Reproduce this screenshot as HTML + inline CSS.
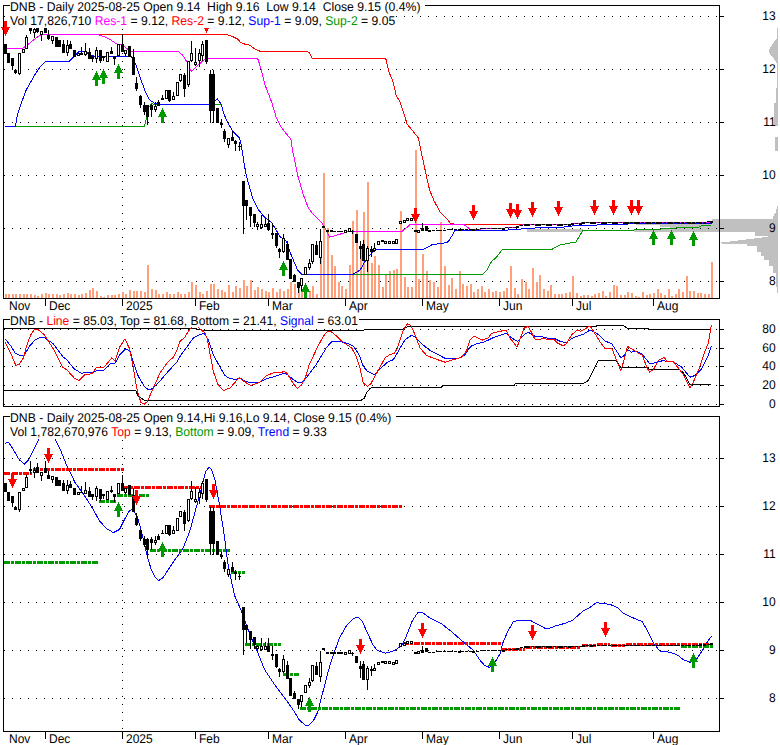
<!DOCTYPE html>
<html><head><meta charset="utf-8"><title>DNB</title>
<style>html,body{margin:0;padding:0;background:#fff;}svg{display:block}</style></head>
<body><svg width="780" height="745" viewBox="0 0 780 745" shape-rendering="crispEdges" text-rendering="geometricPrecision">
<rect width="780" height="745" fill="#fff"/>
<polygon fill="#c0c0c0" points="778,28 777,28 777,38.8 776,38.8 773.8,42.5 771,46.3 769.1,50 769.7,54.7 772.9,57.6 775.7,61.3 777,64.1 777,87.6 775.7,87.6 775.7,102.6 774.4,102.6 774.4,126 778,126"/>
<rect x="775" y="137" width="2.5" height="14" fill="#c0c0c0"/>
<rect x="527" y="229" width="56" height="3" fill="#c0c0c0"/>
<polygon fill="#c0c0c0" points="778,206 777,206 775.8,212.6 773,216.6 773,219 712,219 712,224 636,224 636,225 660,225 660,227 670,227 670,229 634,229 634,232 754.5,232 754.5,236 768.2,236 768.2,236.8 721.5,242.5 721.5,244 746.5,244 746.5,245.6 753,245.6 757,246 757,252 761,252 761,256 764.2,256 764.2,260.2 769,260.2 769,265.8 773,265.8 773,273 775.8,273 775.8,286.8 777,286.8 777,293 778,293"/>
<line x1="396" y1="16.5" x2="719" y2="16.5" stroke="#000" stroke-width="1" stroke-dasharray="1 7"/>
<rect x="720" y="16" width="4" height="1" fill="#000"/>
<line x1="4" y1="69.5" x2="719" y2="69.5" stroke="#000" stroke-width="1" stroke-dasharray="1 7"/>
<rect x="720" y="69" width="4" height="1" fill="#000"/>
<line x1="4" y1="122.5" x2="719" y2="122.5" stroke="#000" stroke-width="1" stroke-dasharray="1 7"/>
<rect x="720" y="122" width="4" height="1" fill="#000"/>
<line x1="4" y1="175.5" x2="719" y2="175.5" stroke="#000" stroke-width="1" stroke-dasharray="1 7"/>
<rect x="720" y="175" width="4" height="1" fill="#000"/>
<line x1="4" y1="228.5" x2="719" y2="228.5" stroke="#000" stroke-width="1" stroke-dasharray="1 7"/>
<rect x="720" y="228" width="4" height="1" fill="#000"/>
<line x1="4" y1="281.5" x2="719" y2="281.5" stroke="#000" stroke-width="1" stroke-dasharray="1 7"/>
<rect x="720" y="281" width="4" height="1" fill="#000"/>
<rect x="4" y="16" width="1" height="1" fill="#000"/>
<line x1="122.5" y1="29" x2="122.5" y2="298" stroke="#000" stroke-width="1" stroke-dasharray="1 7"/>
<rect x="5" y="294" width="2" height="4" fill="#ffa07a"/>
<rect x="8" y="294" width="2" height="4" fill="#ffa07a"/>
<rect x="12" y="294" width="2" height="4" fill="#ffa07a"/>
<rect x="15" y="294" width="2" height="4" fill="#ffa07a"/>
<rect x="19" y="294" width="2" height="4" fill="#ffa07a"/>
<rect x="23" y="294" width="2" height="4" fill="#ffa07a"/>
<rect x="26" y="294" width="2" height="4" fill="#ffa07a"/>
<rect x="30" y="294" width="2" height="4" fill="#ffa07a"/>
<rect x="34" y="295" width="2" height="3" fill="#ffa07a"/>
<rect x="37" y="296" width="2" height="2" fill="#ffa07a"/>
<rect x="41" y="294" width="2" height="4" fill="#ffa07a"/>
<rect x="45" y="293" width="2" height="5" fill="#ffa07a"/>
<rect x="48" y="294" width="2" height="4" fill="#ffa07a"/>
<rect x="52" y="294" width="2" height="4" fill="#ffa07a"/>
<rect x="56" y="294" width="2" height="4" fill="#ffa07a"/>
<rect x="59" y="295" width="2" height="3" fill="#ffa07a"/>
<rect x="63" y="294" width="2" height="4" fill="#ffa07a"/>
<rect x="67" y="293" width="2" height="5" fill="#ffa07a"/>
<rect x="70" y="294" width="2" height="4" fill="#ffa07a"/>
<rect x="74" y="294" width="2" height="4" fill="#ffa07a"/>
<rect x="78" y="295" width="2" height="3" fill="#ffa07a"/>
<rect x="81" y="294" width="2" height="4" fill="#ffa07a"/>
<rect x="85" y="293" width="2" height="5" fill="#ffa07a"/>
<rect x="89" y="290" width="2" height="8" fill="#ffa07a"/>
<rect x="92" y="288" width="2" height="10" fill="#ffa07a"/>
<rect x="96" y="291" width="2" height="7" fill="#ffa07a"/>
<rect x="100" y="296" width="2" height="2" fill="#ffa07a"/>
<rect x="103" y="297" width="2" height="1" fill="#ffa07a"/>
<rect x="107" y="295" width="2" height="3" fill="#ffa07a"/>
<rect x="111" y="295" width="2" height="3" fill="#ffa07a"/>
<rect x="114" y="295" width="2" height="3" fill="#ffa07a"/>
<rect x="118" y="294" width="2" height="4" fill="#ffa07a"/>
<rect x="122" y="292" width="2" height="6" fill="#ffa07a"/>
<rect x="125" y="294" width="2" height="4" fill="#ffa07a"/>
<rect x="129" y="290" width="2" height="8" fill="#ffa07a"/>
<rect x="133" y="291" width="2" height="7" fill="#ffa07a"/>
<rect x="136" y="291" width="2" height="7" fill="#ffa07a"/>
<rect x="140" y="291" width="2" height="7" fill="#ffa07a"/>
<rect x="144" y="292" width="2" height="6" fill="#ffa07a"/>
<rect x="147" y="265" width="2" height="33" fill="#ffa07a"/>
<rect x="151" y="289" width="2" height="9" fill="#ffa07a"/>
<rect x="155" y="290" width="2" height="8" fill="#ffa07a"/>
<rect x="158" y="294" width="2" height="4" fill="#ffa07a"/>
<rect x="162" y="294" width="2" height="4" fill="#ffa07a"/>
<rect x="166" y="292" width="2" height="6" fill="#ffa07a"/>
<rect x="169" y="294" width="2" height="4" fill="#ffa07a"/>
<rect x="173" y="294" width="2" height="4" fill="#ffa07a"/>
<rect x="177" y="292" width="2" height="6" fill="#ffa07a"/>
<rect x="180" y="294" width="2" height="4" fill="#ffa07a"/>
<rect x="184" y="294" width="2" height="4" fill="#ffa07a"/>
<rect x="188" y="292" width="2" height="6" fill="#ffa07a"/>
<rect x="191" y="282" width="2" height="16" fill="#ffa07a"/>
<rect x="195" y="285" width="2" height="13" fill="#ffa07a"/>
<rect x="199" y="292" width="2" height="6" fill="#ffa07a"/>
<rect x="202" y="294" width="2" height="4" fill="#ffa07a"/>
<rect x="206" y="291" width="2" height="7" fill="#ffa07a"/>
<rect x="210" y="284" width="2" height="14" fill="#ffa07a"/>
<rect x="213" y="284" width="2" height="14" fill="#ffa07a"/>
<rect x="217" y="289" width="2" height="9" fill="#ffa07a"/>
<rect x="221" y="290" width="2" height="8" fill="#ffa07a"/>
<rect x="224" y="292" width="2" height="6" fill="#ffa07a"/>
<rect x="228" y="285" width="2" height="13" fill="#ffa07a"/>
<rect x="232" y="292" width="2" height="6" fill="#ffa07a"/>
<rect x="235" y="286" width="2" height="12" fill="#ffa07a"/>
<rect x="239" y="288" width="2" height="10" fill="#ffa07a"/>
<rect x="243" y="280" width="2" height="18" fill="#ffa07a"/>
<rect x="246" y="286" width="2" height="12" fill="#ffa07a"/>
<rect x="250" y="280" width="2" height="18" fill="#ffa07a"/>
<rect x="254" y="290" width="2" height="8" fill="#ffa07a"/>
<rect x="257" y="287" width="2" height="11" fill="#ffa07a"/>
<rect x="261" y="289" width="2" height="9" fill="#ffa07a"/>
<rect x="265" y="291" width="2" height="7" fill="#ffa07a"/>
<rect x="268" y="292" width="2" height="6" fill="#ffa07a"/>
<rect x="272" y="288" width="2" height="10" fill="#ffa07a"/>
<rect x="276" y="292" width="2" height="6" fill="#ffa07a"/>
<rect x="279" y="289" width="2" height="9" fill="#ffa07a"/>
<rect x="283" y="291" width="2" height="7" fill="#ffa07a"/>
<rect x="287" y="289" width="2" height="9" fill="#ffa07a"/>
<rect x="290" y="282" width="2" height="16" fill="#ffa07a"/>
<rect x="294" y="284" width="2" height="14" fill="#ffa07a"/>
<rect x="298" y="288" width="2" height="10" fill="#ffa07a"/>
<rect x="301" y="289" width="2" height="9" fill="#ffa07a"/>
<rect x="305" y="289" width="2" height="9" fill="#ffa07a"/>
<rect x="309" y="291" width="2" height="7" fill="#ffa07a"/>
<rect x="312" y="286" width="2" height="12" fill="#ffa07a"/>
<rect x="316" y="294" width="2" height="4" fill="#ffa07a"/>
<rect x="320" y="256" width="2" height="42" fill="#ffa07a"/>
<rect x="323" y="173" width="2" height="125" fill="#ffa07a"/>
<rect x="327" y="228" width="2" height="70" fill="#ffa07a"/>
<rect x="331" y="255" width="2" height="43" fill="#ffa07a"/>
<rect x="334" y="266" width="2" height="32" fill="#ffa07a"/>
<rect x="338" y="282" width="2" height="16" fill="#ffa07a"/>
<rect x="341" y="286" width="2" height="12" fill="#ffa07a"/>
<rect x="345" y="289" width="2" height="9" fill="#ffa07a"/>
<rect x="349" y="265" width="2" height="33" fill="#ffa07a"/>
<rect x="352" y="221" width="2" height="77" fill="#ffa07a"/>
<rect x="356" y="210" width="2" height="88" fill="#ffa07a"/>
<rect x="360" y="247" width="2" height="51" fill="#ffa07a"/>
<rect x="363" y="212" width="2" height="86" fill="#ffa07a"/>
<rect x="367" y="182" width="2" height="116" fill="#ffa07a"/>
<rect x="371" y="263" width="2" height="35" fill="#ffa07a"/>
<rect x="374" y="256" width="2" height="42" fill="#ffa07a"/>
<rect x="378" y="265" width="2" height="33" fill="#ffa07a"/>
<rect x="382" y="287" width="2" height="11" fill="#ffa07a"/>
<rect x="385" y="275" width="2" height="23" fill="#ffa07a"/>
<rect x="389" y="271" width="2" height="27" fill="#ffa07a"/>
<rect x="393" y="270" width="2" height="28" fill="#ffa07a"/>
<rect x="396" y="269" width="2" height="29" fill="#ffa07a"/>
<rect x="400" y="211" width="2" height="87" fill="#ffa07a"/>
<rect x="404" y="277" width="2" height="21" fill="#ffa07a"/>
<rect x="407" y="287" width="2" height="11" fill="#ffa07a"/>
<rect x="411" y="287" width="2" height="11" fill="#ffa07a"/>
<rect x="415" y="150" width="2" height="148" fill="#ffa07a"/>
<rect x="418" y="279" width="2" height="19" fill="#ffa07a"/>
<rect x="422" y="254" width="2" height="44" fill="#ffa07a"/>
<rect x="426" y="271" width="2" height="27" fill="#ffa07a"/>
<rect x="429" y="280" width="2" height="18" fill="#ffa07a"/>
<rect x="433" y="282" width="2" height="16" fill="#ffa07a"/>
<rect x="437" y="287" width="2" height="11" fill="#ffa07a"/>
<rect x="440" y="222" width="2" height="76" fill="#ffa07a"/>
<rect x="444" y="266" width="2" height="32" fill="#ffa07a"/>
<rect x="448" y="285" width="2" height="13" fill="#ffa07a"/>
<rect x="451" y="278" width="2" height="20" fill="#ffa07a"/>
<rect x="455" y="289" width="2" height="9" fill="#ffa07a"/>
<rect x="459" y="271" width="2" height="27" fill="#ffa07a"/>
<rect x="462" y="284" width="2" height="14" fill="#ffa07a"/>
<rect x="466" y="286" width="2" height="12" fill="#ffa07a"/>
<rect x="470" y="284" width="2" height="14" fill="#ffa07a"/>
<rect x="473" y="292" width="2" height="6" fill="#ffa07a"/>
<rect x="477" y="289" width="2" height="9" fill="#ffa07a"/>
<rect x="481" y="286" width="2" height="12" fill="#ffa07a"/>
<rect x="484" y="292" width="2" height="6" fill="#ffa07a"/>
<rect x="488" y="289" width="2" height="9" fill="#ffa07a"/>
<rect x="492" y="292" width="2" height="6" fill="#ffa07a"/>
<rect x="495" y="291" width="2" height="7" fill="#ffa07a"/>
<rect x="499" y="292" width="2" height="6" fill="#ffa07a"/>
<rect x="503" y="291" width="2" height="7" fill="#ffa07a"/>
<rect x="506" y="288" width="2" height="10" fill="#ffa07a"/>
<rect x="510" y="266" width="2" height="32" fill="#ffa07a"/>
<rect x="514" y="288" width="2" height="10" fill="#ffa07a"/>
<rect x="517" y="294" width="2" height="4" fill="#ffa07a"/>
<rect x="521" y="279" width="2" height="19" fill="#ffa07a"/>
<rect x="525" y="282" width="2" height="16" fill="#ffa07a"/>
<rect x="528" y="289" width="2" height="9" fill="#ffa07a"/>
<rect x="532" y="268" width="2" height="30" fill="#ffa07a"/>
<rect x="536" y="282" width="2" height="16" fill="#ffa07a"/>
<rect x="539" y="275" width="2" height="23" fill="#ffa07a"/>
<rect x="543" y="289" width="2" height="9" fill="#ffa07a"/>
<rect x="547" y="291" width="2" height="7" fill="#ffa07a"/>
<rect x="550" y="285" width="2" height="13" fill="#ffa07a"/>
<rect x="554" y="294" width="2" height="4" fill="#ffa07a"/>
<rect x="558" y="294" width="2" height="4" fill="#ffa07a"/>
<rect x="561" y="294" width="2" height="4" fill="#ffa07a"/>
<rect x="565" y="293" width="2" height="5" fill="#ffa07a"/>
<rect x="569" y="292" width="2" height="6" fill="#ffa07a"/>
<rect x="572" y="276" width="2" height="22" fill="#ffa07a"/>
<rect x="576" y="293" width="2" height="5" fill="#ffa07a"/>
<rect x="580" y="296" width="2" height="2" fill="#ffa07a"/>
<rect x="583" y="295" width="2" height="3" fill="#ffa07a"/>
<rect x="587" y="295" width="2" height="3" fill="#ffa07a"/>
<rect x="591" y="296" width="2" height="2" fill="#ffa07a"/>
<rect x="594" y="294" width="2" height="4" fill="#ffa07a"/>
<rect x="598" y="293" width="2" height="5" fill="#ffa07a"/>
<rect x="602" y="291" width="2" height="7" fill="#ffa07a"/>
<rect x="605" y="296" width="2" height="2" fill="#ffa07a"/>
<rect x="609" y="292" width="2" height="6" fill="#ffa07a"/>
<rect x="613" y="285" width="2" height="13" fill="#ffa07a"/>
<rect x="616" y="286" width="2" height="12" fill="#ffa07a"/>
<rect x="620" y="295" width="2" height="3" fill="#ffa07a"/>
<rect x="624" y="295" width="2" height="3" fill="#ffa07a"/>
<rect x="627" y="292" width="2" height="6" fill="#ffa07a"/>
<rect x="631" y="293" width="2" height="5" fill="#ffa07a"/>
<rect x="635" y="296" width="2" height="2" fill="#ffa07a"/>
<rect x="638" y="297" width="2" height="1" fill="#ffa07a"/>
<rect x="642" y="292" width="2" height="6" fill="#ffa07a"/>
<rect x="646" y="295" width="2" height="3" fill="#ffa07a"/>
<rect x="649" y="294" width="2" height="4" fill="#ffa07a"/>
<rect x="653" y="293" width="2" height="5" fill="#ffa07a"/>
<rect x="657" y="289" width="2" height="9" fill="#ffa07a"/>
<rect x="660" y="293" width="2" height="5" fill="#ffa07a"/>
<rect x="664" y="295" width="2" height="3" fill="#ffa07a"/>
<rect x="668" y="289" width="2" height="9" fill="#ffa07a"/>
<rect x="671" y="296" width="2" height="2" fill="#ffa07a"/>
<rect x="675" y="294" width="2" height="4" fill="#ffa07a"/>
<rect x="678" y="289" width="2" height="9" fill="#ffa07a"/>
<rect x="682" y="292" width="2" height="6" fill="#ffa07a"/>
<rect x="686" y="276" width="2" height="22" fill="#ffa07a"/>
<rect x="689" y="291" width="2" height="7" fill="#ffa07a"/>
<rect x="693" y="291" width="2" height="7" fill="#ffa07a"/>
<rect x="697" y="293" width="2" height="5" fill="#ffa07a"/>
<rect x="700" y="293" width="2" height="5" fill="#ffa07a"/>
<rect x="704" y="294" width="2" height="4" fill="#ffa07a"/>
<rect x="708" y="294" width="2" height="4" fill="#ffa07a"/>
<rect x="711" y="262" width="2" height="36" fill="#ffa07a"/>
<polyline points="98.6,34.4 226.5,34.4 230.0,35.7 233.5,37.0 237.9,39.2 240.4,42.3 244.8,44.1 249.2,45.0 256.2,49.7 260.5,51.4 306.8,51.4 309.4,53.0 312.0,58.2 385.7,58.2 388.9,71.8 393.2,82.3 396.2,95.4 400.2,102.4 407.2,124.2 411.6,129.4 418.5,138.1 420.3,147.7 427.3,180.0 429.7,190.5 434.1,200.9 440.2,212.3 447.2,219.3 450.7,223.6 455.0,224.2 540.0,224.2 570.0,224.5 572.0,223.5 581.0,223.5 582.0,222.6 712.0,222.5" fill="none" stroke="#ff0000" stroke-width="1" />
<polyline points="5.0,48.4 22.7,48.4 38.6,36.2 42.3,34.4 98.5,34.5 99.2,35.3 104.7,36.8 110.4,39.8 116.5,43.9 122.7,45.0 125.8,48.0 130.9,51.1 133.0,51.5 178.5,51.5 182.8,55.4 187.2,62.4 191.2,71.4 205.5,58.5 257.6,58.2 260.5,67.1 264.9,84.6 271.9,102.9 276.3,117.7 280.6,126.5 285.9,133.4 290.8,138.8 292.5,150.1 297.7,175.4 303.0,193.8 308.2,207.7 313.4,214.7 322.2,223.4 325.4,228.9 329.8,237.2 347.3,232.0 350.0,231.6 401.8,231.5 406.2,228.0 410.5,224.2 463.7,224.5 470.8,229.5 480.0,229.5 482.0,228.6 504.0,228.6 506.0,227.5 517.0,227.0 520.0,225.5 524.0,224.5 570.0,224.5 572.0,223.5 581.0,223.5 582.0,222.6 712.0,222.5" fill="none" stroke="#ff00ff" stroke-width="1" />
<polyline points="15.4,126.0 144.4,126.0 146.2,119.0 148.8,107.7 151.4,103.4 155.0,104.6 221.0,104.6" fill="none" stroke="#009900" stroke-width="1" />
<polyline points="354.2,274.6 482.1,274.6 486.5,270.8 491.7,261.2 496.0,257.7 502.2,249.5 551.5,249.5 560.2,244.9 575.9,242.0 582.9,230.5 633.5,230.5 634.5,229.5 660.5,229.5 661.5,228.5 675.5,228.5 676.5,227.5 698.0,227.5 700.0,226.5 702.0,225.5 711.0,225.5" fill="none" stroke="#009900" stroke-width="1" />
<polyline points="5.0,126.0 15.4,126.0 17.5,114.7 21.0,104.0 26.2,90.0 34.9,74.6 41.0,65.8 45.4,61.5 69.0,61.5 78.5,51.9 82.0,51.4 85.5,51.4 90.0,55.0 95.0,56.2 131.3,56.2 135.7,64.0 140.9,79.8 146.2,93.8 149.7,99.9 154.9,103.4 160.1,104.6 209.2,104.5 214.9,100.6 217.3,99.0 221.3,104.3 223.5,112.9 227.2,121.5 232.6,131.2 239.6,138.2 241.2,145.2 244.4,165.0 246.2,175.4 252.4,197.3 257.6,208.6 264.6,217.3 272.0,223.0 280.0,236.7 286.2,241.1 290.5,253.3 297.5,269.9 301.9,274.2 304.0,274.6 352.5,274.6 360.3,269.9 364.7,262.0 370.0,255.0 375.2,249.8 377.0,249.5 422.8,249.5 432.4,244.6 447.2,242.5 449.8,239.4 455.0,230.6 457.0,230.3 500.0,230.6 535.0,228.0 560.0,227.3 570.0,226.5 574.0,225.5 596.0,225.5 598.0,224.5 625.0,224.5 630.0,223.5 712.0,223.5" fill="none" stroke="#0000ff" stroke-width="1" />
<rect x="5" y="44" width="1" height="10" fill="#000"/>
<rect x="4" y="44" width="3" height="10" fill="#000"/>
<rect x="8" y="53" width="1" height="10" fill="#000"/>
<rect x="7" y="53" width="3" height="10" fill="#000"/>
<rect x="12" y="58" width="1" height="11" fill="#000"/>
<rect x="11" y="58" width="3" height="8" fill="#000"/>
<rect x="15" y="69" width="1" height="5" fill="#000"/>
<rect x="14" y="70" width="3" height="3" fill="#000"/>
<rect x="19" y="53" width="1" height="22" fill="#000"/>
<rect x="18" y="53" width="3" height="21" fill="#000"/>
<rect x="19" y="54" width="1" height="19" fill="#fff"/>
<rect x="23" y="49" width="1" height="4" fill="#000"/>
<rect x="22" y="49" width="3" height="4" fill="#000"/>
<rect x="23" y="50" width="1" height="2" fill="#fff"/>
<rect x="26" y="35" width="1" height="14" fill="#000"/>
<rect x="25" y="37" width="3" height="12" fill="#000"/>
<rect x="26" y="38" width="1" height="10" fill="#fff"/>
<rect x="30" y="19" width="1" height="15" fill="#000"/>
<rect x="29" y="28" width="3" height="3" fill="#000"/>
<rect x="34" y="26" width="1" height="12" fill="#000"/>
<rect x="33" y="29" width="3" height="4" fill="#000"/>
<rect x="34" y="30" width="1" height="2" fill="#fff"/>
<rect x="37" y="21" width="1" height="12" fill="#000"/>
<rect x="36" y="26" width="3" height="6" fill="#000"/>
<rect x="41" y="31" width="1" height="10" fill="#000"/>
<rect x="40" y="31" width="3" height="4" fill="#000"/>
<rect x="41" y="32" width="1" height="2" fill="#fff"/>
<rect x="45" y="20" width="1" height="13" fill="#000"/>
<rect x="44" y="27" width="3" height="6" fill="#000"/>
<rect x="48" y="30" width="1" height="10" fill="#000"/>
<rect x="47" y="35" width="3" height="4" fill="#000"/>
<rect x="52" y="36" width="1" height="8" fill="#000"/>
<rect x="51" y="36" width="3" height="5" fill="#000"/>
<rect x="52" y="37" width="1" height="3" fill="#fff"/>
<rect x="56" y="37" width="1" height="10" fill="#000"/>
<rect x="55" y="37" width="3" height="10" fill="#000"/>
<rect x="59" y="40" width="1" height="7" fill="#000"/>
<rect x="58" y="40" width="3" height="7" fill="#000"/>
<rect x="63" y="40" width="1" height="13" fill="#000"/>
<rect x="62" y="44" width="3" height="9" fill="#000"/>
<rect x="67" y="40" width="1" height="16" fill="#000"/>
<rect x="66" y="45" width="3" height="8" fill="#000"/>
<rect x="67" y="46" width="1" height="6" fill="#fff"/>
<rect x="70" y="41" width="1" height="8" fill="#000"/>
<rect x="69" y="44" width="3" height="5" fill="#000"/>
<rect x="74" y="50" width="1" height="7" fill="#000"/>
<rect x="73" y="50" width="3" height="7" fill="#000"/>
<rect x="78" y="53" width="1" height="3" fill="#000"/>
<rect x="77" y="53" width="3" height="3" fill="#000"/>
<rect x="78" y="54" width="1" height="1" fill="#fff"/>
<rect x="81" y="47" width="1" height="8" fill="#000"/>
<rect x="80" y="53" width="3" height="2" fill="#000"/>
<rect x="85" y="43" width="1" height="13" fill="#000"/>
<rect x="84" y="51" width="3" height="4" fill="#000"/>
<rect x="85" y="52" width="1" height="2" fill="#fff"/>
<rect x="89" y="48" width="1" height="11" fill="#000"/>
<rect x="88" y="52" width="3" height="7" fill="#000"/>
<rect x="92" y="56" width="1" height="6" fill="#000"/>
<rect x="91" y="56" width="3" height="3" fill="#000"/>
<rect x="96" y="47" width="1" height="16" fill="#000"/>
<rect x="95" y="50" width="3" height="9" fill="#000"/>
<rect x="96" y="51" width="1" height="7" fill="#fff"/>
<rect x="100" y="50" width="1" height="13" fill="#000"/>
<rect x="99" y="50" width="3" height="11" fill="#000"/>
<rect x="103" y="56" width="1" height="5" fill="#000"/>
<rect x="102" y="56" width="3" height="2" fill="#000"/>
<rect x="107" y="52" width="1" height="10" fill="#000"/>
<rect x="106" y="52" width="3" height="10" fill="#000"/>
<rect x="107" y="53" width="1" height="8" fill="#fff"/>
<rect x="111" y="47" width="1" height="7" fill="#000"/>
<rect x="110" y="51" width="3" height="3" fill="#000"/>
<rect x="114" y="56" width="1" height="9" fill="#000"/>
<rect x="113" y="56" width="3" height="3" fill="#000"/>
<rect x="118" y="44" width="1" height="12" fill="#000"/>
<rect x="117" y="44" width="3" height="12" fill="#000"/>
<rect x="118" y="45" width="1" height="10" fill="#fff"/>
<rect x="122" y="34" width="1" height="18" fill="#000"/>
<rect x="121" y="44" width="3" height="8" fill="#000"/>
<rect x="125" y="50" width="1" height="6" fill="#000"/>
<rect x="124" y="50" width="3" height="4" fill="#000"/>
<rect x="125" y="51" width="1" height="2" fill="#fff"/>
<rect x="129" y="46" width="1" height="11" fill="#000"/>
<rect x="128" y="46" width="3" height="11" fill="#000"/>
<rect x="133" y="49" width="1" height="26" fill="#000"/>
<rect x="132" y="57" width="3" height="18" fill="#000"/>
<rect x="136" y="77" width="1" height="14" fill="#000"/>
<rect x="135" y="83" width="3" height="6" fill="#000"/>
<rect x="140" y="95" width="1" height="13" fill="#000"/>
<rect x="139" y="96" width="3" height="9" fill="#000"/>
<rect x="144" y="102" width="1" height="13" fill="#000"/>
<rect x="143" y="105" width="3" height="7" fill="#000"/>
<rect x="147" y="105" width="1" height="20" fill="#000"/>
<rect x="146" y="105" width="3" height="12" fill="#000"/>
<rect x="151" y="104" width="1" height="13" fill="#000"/>
<rect x="150" y="105" width="3" height="5" fill="#000"/>
<rect x="155" y="102" width="1" height="10" fill="#000"/>
<rect x="154" y="106" width="3" height="4" fill="#000"/>
<rect x="155" y="107" width="1" height="2" fill="#fff"/>
<rect x="158" y="100" width="1" height="6" fill="#000"/>
<rect x="157" y="102" width="3" height="4" fill="#000"/>
<rect x="162" y="95" width="1" height="5" fill="#000"/>
<rect x="161" y="98" width="3" height="2" fill="#000"/>
<rect x="166" y="90" width="1" height="9" fill="#000"/>
<rect x="165" y="90" width="3" height="9" fill="#000"/>
<rect x="166" y="91" width="1" height="7" fill="#fff"/>
<rect x="169" y="90" width="1" height="12" fill="#000"/>
<rect x="168" y="90" width="3" height="11" fill="#000"/>
<rect x="173" y="92" width="1" height="8" fill="#000"/>
<rect x="172" y="96" width="3" height="4" fill="#000"/>
<rect x="173" y="97" width="1" height="2" fill="#fff"/>
<rect x="177" y="82" width="1" height="14" fill="#000"/>
<rect x="176" y="82" width="3" height="14" fill="#000"/>
<rect x="177" y="83" width="1" height="12" fill="#fff"/>
<rect x="180" y="74" width="1" height="8" fill="#000"/>
<rect x="179" y="74" width="3" height="7" fill="#000"/>
<rect x="180" y="75" width="1" height="5" fill="#fff"/>
<rect x="184" y="73" width="1" height="24" fill="#000"/>
<rect x="183" y="75" width="3" height="14" fill="#000"/>
<rect x="188" y="61" width="1" height="26" fill="#000"/>
<rect x="187" y="61" width="3" height="24" fill="#000"/>
<rect x="188" y="62" width="1" height="22" fill="#fff"/>
<rect x="191" y="41" width="1" height="21" fill="#000"/>
<rect x="190" y="53" width="3" height="8" fill="#000"/>
<rect x="191" y="54" width="1" height="6" fill="#fff"/>
<rect x="195" y="48" width="1" height="18" fill="#000"/>
<rect x="194" y="62" width="3" height="3" fill="#000"/>
<rect x="195" y="63" width="1" height="1" fill="#fff"/>
<rect x="199" y="49" width="1" height="18" fill="#000"/>
<rect x="198" y="53" width="3" height="8" fill="#000"/>
<rect x="199" y="54" width="1" height="6" fill="#fff"/>
<rect x="202" y="41" width="1" height="20" fill="#000"/>
<rect x="201" y="44" width="3" height="12" fill="#000"/>
<rect x="202" y="45" width="1" height="10" fill="#fff"/>
<rect x="206" y="40" width="1" height="24" fill="#000"/>
<rect x="205" y="40" width="3" height="22" fill="#000"/>
<rect x="210" y="70" width="1" height="53" fill="#000"/>
<rect x="209" y="74" width="3" height="37" fill="#000"/>
<rect x="213" y="70" width="1" height="53" fill="#000"/>
<rect x="212" y="74" width="3" height="37" fill="#000"/>
<rect x="217" y="108" width="1" height="15" fill="#000"/>
<rect x="216" y="108" width="3" height="15" fill="#000"/>
<rect x="221" y="119" width="1" height="9" fill="#000"/>
<rect x="220" y="123" width="3" height="2" fill="#000"/>
<rect x="224" y="129" width="1" height="13" fill="#000"/>
<rect x="223" y="131" width="3" height="8" fill="#000"/>
<rect x="228" y="138" width="1" height="10" fill="#000"/>
<rect x="227" y="138" width="3" height="7" fill="#000"/>
<rect x="228" y="139" width="1" height="5" fill="#fff"/>
<rect x="232" y="131" width="1" height="10" fill="#000"/>
<rect x="231" y="137" width="3" height="4" fill="#000"/>
<rect x="235" y="140" width="1" height="11" fill="#000"/>
<rect x="234" y="141" width="3" height="3" fill="#000"/>
<rect x="239" y="142" width="1" height="9" fill="#000"/>
<rect x="238" y="146" width="3" height="1" fill="#000"/>
<rect x="243" y="181" width="1" height="53" fill="#000"/>
<rect x="242" y="181" width="3" height="25" fill="#000"/>
<rect x="246" y="200" width="1" height="20" fill="#000"/>
<rect x="245" y="200" width="3" height="6" fill="#000"/>
<rect x="250" y="207" width="1" height="20" fill="#000"/>
<rect x="249" y="207" width="3" height="9" fill="#000"/>
<rect x="254" y="214" width="1" height="13" fill="#000"/>
<rect x="253" y="214" width="3" height="9" fill="#000"/>
<rect x="257" y="222" width="1" height="8" fill="#000"/>
<rect x="256" y="224" width="3" height="3" fill="#000"/>
<rect x="257" y="225" width="1" height="1" fill="#fff"/>
<rect x="261" y="215" width="1" height="14" fill="#000"/>
<rect x="260" y="224" width="3" height="4" fill="#000"/>
<rect x="261" y="225" width="1" height="2" fill="#fff"/>
<rect x="265" y="219" width="1" height="8" fill="#000"/>
<rect x="264" y="224" width="3" height="3" fill="#000"/>
<rect x="265" y="225" width="1" height="1" fill="#fff"/>
<rect x="268" y="214" width="1" height="17" fill="#000"/>
<rect x="267" y="223" width="3" height="7" fill="#000"/>
<rect x="272" y="223" width="1" height="16" fill="#000"/>
<rect x="271" y="233" width="3" height="2" fill="#000"/>
<rect x="276" y="233" width="1" height="15" fill="#000"/>
<rect x="275" y="233" width="3" height="13" fill="#000"/>
<rect x="279" y="248" width="1" height="10" fill="#000"/>
<rect x="278" y="249" width="3" height="3" fill="#000"/>
<rect x="283" y="234" width="1" height="19" fill="#000"/>
<rect x="282" y="238" width="3" height="14" fill="#000"/>
<rect x="283" y="239" width="1" height="12" fill="#fff"/>
<rect x="287" y="241" width="1" height="19" fill="#000"/>
<rect x="286" y="244" width="3" height="16" fill="#000"/>
<rect x="290" y="259" width="1" height="20" fill="#000"/>
<rect x="289" y="259" width="3" height="20" fill="#000"/>
<rect x="294" y="274" width="1" height="8" fill="#000"/>
<rect x="293" y="275" width="3" height="7" fill="#000"/>
<rect x="298" y="282" width="1" height="11" fill="#000"/>
<rect x="297" y="282" width="3" height="6" fill="#000"/>
<rect x="301" y="278" width="1" height="13" fill="#000"/>
<rect x="300" y="278" width="3" height="8" fill="#000"/>
<rect x="301" y="279" width="1" height="6" fill="#fff"/>
<rect x="305" y="267" width="1" height="8" fill="#000"/>
<rect x="304" y="267" width="3" height="8" fill="#000"/>
<rect x="305" y="268" width="1" height="6" fill="#fff"/>
<rect x="309" y="259" width="1" height="11" fill="#000"/>
<rect x="308" y="263" width="3" height="5" fill="#000"/>
<rect x="309" y="264" width="1" height="3" fill="#fff"/>
<rect x="312" y="244" width="1" height="20" fill="#000"/>
<rect x="311" y="244" width="3" height="18" fill="#000"/>
<rect x="312" y="245" width="1" height="16" fill="#fff"/>
<rect x="316" y="241" width="1" height="14" fill="#000"/>
<rect x="315" y="245" width="3" height="10" fill="#000"/>
<rect x="320" y="229" width="1" height="35" fill="#000"/>
<rect x="319" y="241" width="3" height="17" fill="#000"/>
<rect x="320" y="242" width="1" height="15" fill="#fff"/>
<rect x="323" y="226" width="1" height="2" fill="#000"/>
<rect x="322" y="226" width="3" height="2" fill="#000"/>
<rect x="327" y="230" width="1" height="2" fill="#000"/>
<rect x="326" y="230" width="3" height="2" fill="#000"/>
<rect x="331" y="230" width="1" height="2" fill="#000"/>
<rect x="330" y="230" width="3" height="2" fill="#000"/>
<rect x="334" y="231" width="1" height="1" fill="#000"/>
<rect x="333" y="231" width="3" height="1" fill="#000"/>
<rect x="338" y="231" width="1" height="1" fill="#000"/>
<rect x="337" y="231" width="3" height="1" fill="#000"/>
<rect x="341" y="231" width="1" height="1" fill="#000"/>
<rect x="340" y="231" width="3" height="1" fill="#000"/>
<rect x="345" y="230" width="1" height="3" fill="#000"/>
<rect x="344" y="230" width="3" height="3" fill="#000"/>
<rect x="345" y="231" width="1" height="1" fill="#fff"/>
<rect x="349" y="228" width="1" height="4" fill="#000"/>
<rect x="348" y="228" width="3" height="4" fill="#000"/>
<rect x="349" y="229" width="1" height="2" fill="#fff"/>
<rect x="352" y="230" width="1" height="4" fill="#000"/>
<rect x="351" y="231" width="3" height="1" fill="#000"/>
<rect x="356" y="234" width="1" height="9" fill="#000"/>
<rect x="355" y="234" width="3" height="9" fill="#000"/>
<rect x="360" y="241" width="1" height="18" fill="#000"/>
<rect x="359" y="246" width="3" height="3" fill="#000"/>
<rect x="363" y="240" width="1" height="21" fill="#000"/>
<rect x="362" y="244" width="3" height="17" fill="#000"/>
<rect x="367" y="246" width="1" height="26" fill="#000"/>
<rect x="366" y="248" width="3" height="13" fill="#000"/>
<rect x="367" y="249" width="1" height="11" fill="#fff"/>
<rect x="371" y="246" width="1" height="11" fill="#000"/>
<rect x="370" y="249" width="3" height="3" fill="#000"/>
<rect x="374" y="243" width="1" height="9" fill="#000"/>
<rect x="373" y="248" width="3" height="3" fill="#000"/>
<rect x="374" y="249" width="1" height="1" fill="#fff"/>
<rect x="378" y="241" width="1" height="4" fill="#000"/>
<rect x="377" y="241" width="3" height="4" fill="#000"/>
<rect x="378" y="242" width="1" height="2" fill="#fff"/>
<rect x="382" y="240" width="1" height="2" fill="#000"/>
<rect x="381" y="240" width="3" height="2" fill="#000"/>
<rect x="385" y="241" width="1" height="3" fill="#000"/>
<rect x="384" y="241" width="3" height="3" fill="#000"/>
<rect x="385" y="242" width="1" height="1" fill="#fff"/>
<rect x="389" y="241" width="1" height="3" fill="#000"/>
<rect x="388" y="241" width="3" height="3" fill="#000"/>
<rect x="389" y="242" width="1" height="1" fill="#fff"/>
<rect x="393" y="241" width="1" height="3" fill="#000"/>
<rect x="392" y="241" width="3" height="3" fill="#000"/>
<rect x="393" y="242" width="1" height="1" fill="#fff"/>
<rect x="396" y="239" width="1" height="5" fill="#000"/>
<rect x="395" y="239" width="3" height="5" fill="#000"/>
<rect x="396" y="240" width="1" height="3" fill="#fff"/>
<rect x="400" y="221" width="1" height="3" fill="#000"/>
<rect x="399" y="221" width="3" height="3" fill="#000"/>
<rect x="400" y="222" width="1" height="1" fill="#fff"/>
<rect x="404" y="220" width="1" height="3" fill="#000"/>
<rect x="403" y="220" width="3" height="3" fill="#000"/>
<rect x="404" y="221" width="1" height="1" fill="#fff"/>
<rect x="407" y="218" width="1" height="3" fill="#000"/>
<rect x="406" y="218" width="3" height="3" fill="#000"/>
<rect x="407" y="219" width="1" height="1" fill="#fff"/>
<rect x="411" y="218" width="1" height="3" fill="#000"/>
<rect x="410" y="218" width="3" height="3" fill="#000"/>
<rect x="411" y="219" width="1" height="1" fill="#fff"/>
<rect x="415" y="230" width="1" height="2" fill="#000"/>
<rect x="414" y="230" width="3" height="2" fill="#000"/>
<rect x="418" y="230" width="1" height="3" fill="#000"/>
<rect x="417" y="230" width="3" height="3" fill="#000"/>
<rect x="418" y="231" width="1" height="1" fill="#fff"/>
<rect x="422" y="223" width="1" height="8" fill="#000"/>
<rect x="421" y="228" width="3" height="3" fill="#000"/>
<rect x="426" y="226" width="1" height="5" fill="#000"/>
<rect x="425" y="226" width="3" height="5" fill="#000"/>
<rect x="429" y="230" width="1" height="2" fill="#000"/>
<rect x="428" y="230" width="3" height="2" fill="#000"/>
<rect x="433" y="230" width="1" height="1" fill="#000"/>
<rect x="432" y="230" width="3" height="1" fill="#000"/>
<rect x="437" y="230" width="1" height="1" fill="#000"/>
<rect x="436" y="230" width="3" height="1" fill="#000"/>
<rect x="440" y="230" width="1" height="1" fill="#000"/>
<rect x="439" y="230" width="3" height="1" fill="#000"/>
<rect x="444" y="230" width="1" height="1" fill="#000"/>
<rect x="443" y="230" width="3" height="1" fill="#000"/>
<rect x="448" y="229" width="1" height="1" fill="#000"/>
<rect x="447" y="229" width="3" height="1" fill="#000"/>
<rect x="451" y="229" width="1" height="1" fill="#000"/>
<rect x="450" y="229" width="3" height="1" fill="#000"/>
<rect x="455" y="229" width="1" height="1" fill="#000"/>
<rect x="454" y="229" width="3" height="1" fill="#000"/>
<rect x="459" y="229" width="1" height="2" fill="#000"/>
<rect x="458" y="229" width="3" height="2" fill="#000"/>
<rect x="462" y="229" width="1" height="1" fill="#000"/>
<rect x="461" y="229" width="3" height="1" fill="#000"/>
<rect x="466" y="229" width="1" height="1" fill="#000"/>
<rect x="465" y="229" width="3" height="1" fill="#000"/>
<rect x="470" y="229" width="1" height="1" fill="#000"/>
<rect x="469" y="229" width="3" height="1" fill="#000"/>
<rect x="473" y="229" width="1" height="2" fill="#000"/>
<rect x="472" y="229" width="3" height="2" fill="#000"/>
<rect x="477" y="229" width="1" height="1" fill="#000"/>
<rect x="476" y="229" width="3" height="1" fill="#000"/>
<rect x="481" y="228" width="1" height="1" fill="#000"/>
<rect x="480" y="228" width="3" height="1" fill="#000"/>
<rect x="484" y="228" width="1" height="1" fill="#000"/>
<rect x="483" y="228" width="3" height="1" fill="#000"/>
<rect x="488" y="228" width="1" height="1" fill="#000"/>
<rect x="487" y="228" width="3" height="1" fill="#000"/>
<rect x="492" y="228" width="1" height="1" fill="#000"/>
<rect x="491" y="228" width="3" height="1" fill="#000"/>
<rect x="495" y="228" width="1" height="1" fill="#000"/>
<rect x="494" y="228" width="3" height="1" fill="#000"/>
<rect x="499" y="228" width="1" height="1" fill="#000"/>
<rect x="498" y="228" width="3" height="1" fill="#000"/>
<rect x="503" y="228" width="1" height="2" fill="#000"/>
<rect x="502" y="228" width="3" height="2" fill="#000"/>
<rect x="506" y="227" width="1" height="1" fill="#000"/>
<rect x="505" y="227" width="3" height="1" fill="#000"/>
<rect x="510" y="227" width="1" height="1" fill="#000"/>
<rect x="509" y="227" width="3" height="1" fill="#000"/>
<rect x="514" y="227" width="1" height="1" fill="#000"/>
<rect x="513" y="227" width="3" height="1" fill="#000"/>
<rect x="517" y="226" width="1" height="2" fill="#000"/>
<rect x="516" y="226" width="3" height="2" fill="#000"/>
<rect x="521" y="225" width="1" height="1" fill="#000"/>
<rect x="520" y="225" width="3" height="1" fill="#000"/>
<rect x="525" y="224" width="1" height="2" fill="#000"/>
<rect x="524" y="224" width="3" height="2" fill="#000"/>
<rect x="528" y="224" width="1" height="2" fill="#000"/>
<rect x="527" y="224" width="3" height="2" fill="#000"/>
<rect x="532" y="224" width="1" height="1" fill="#000"/>
<rect x="531" y="224" width="3" height="1" fill="#000"/>
<rect x="536" y="224" width="1" height="2" fill="#000"/>
<rect x="535" y="224" width="3" height="2" fill="#000"/>
<rect x="539" y="224" width="1" height="2" fill="#000"/>
<rect x="538" y="224" width="3" height="2" fill="#000"/>
<rect x="543" y="224" width="1" height="1" fill="#000"/>
<rect x="542" y="224" width="3" height="1" fill="#000"/>
<rect x="547" y="224" width="1" height="2" fill="#000"/>
<rect x="546" y="224" width="3" height="2" fill="#000"/>
<rect x="550" y="224" width="1" height="2" fill="#000"/>
<rect x="549" y="224" width="3" height="2" fill="#000"/>
<rect x="554" y="224" width="1" height="1" fill="#000"/>
<rect x="553" y="224" width="3" height="1" fill="#000"/>
<rect x="558" y="224" width="1" height="2" fill="#000"/>
<rect x="557" y="224" width="3" height="2" fill="#000"/>
<rect x="561" y="224" width="1" height="2" fill="#000"/>
<rect x="560" y="224" width="3" height="2" fill="#000"/>
<rect x="565" y="224" width="1" height="1" fill="#000"/>
<rect x="564" y="224" width="3" height="1" fill="#000"/>
<rect x="569" y="224" width="1" height="2" fill="#000"/>
<rect x="568" y="224" width="3" height="2" fill="#000"/>
<rect x="572" y="223" width="1" height="2" fill="#000"/>
<rect x="571" y="223" width="3" height="2" fill="#000"/>
<rect x="576" y="223" width="1" height="1" fill="#000"/>
<rect x="575" y="223" width="3" height="1" fill="#000"/>
<rect x="580" y="223" width="1" height="2" fill="#000"/>
<rect x="579" y="223" width="3" height="2" fill="#000"/>
<rect x="583" y="222" width="1" height="2" fill="#000"/>
<rect x="582" y="222" width="3" height="2" fill="#000"/>
<rect x="587" y="222" width="1" height="1" fill="#000"/>
<rect x="586" y="222" width="3" height="1" fill="#000"/>
<rect x="591" y="222" width="1" height="2" fill="#000"/>
<rect x="590" y="222" width="3" height="2" fill="#000"/>
<rect x="594" y="222" width="1" height="2" fill="#000"/>
<rect x="593" y="222" width="3" height="2" fill="#000"/>
<rect x="598" y="222" width="1" height="1" fill="#000"/>
<rect x="597" y="222" width="3" height="1" fill="#000"/>
<rect x="602" y="222" width="1" height="2" fill="#000"/>
<rect x="601" y="222" width="3" height="2" fill="#000"/>
<rect x="605" y="222" width="1" height="2" fill="#000"/>
<rect x="604" y="222" width="3" height="2" fill="#000"/>
<rect x="609" y="222" width="1" height="1" fill="#000"/>
<rect x="608" y="222" width="3" height="1" fill="#000"/>
<rect x="613" y="222" width="1" height="2" fill="#000"/>
<rect x="612" y="222" width="3" height="2" fill="#000"/>
<rect x="616" y="222" width="1" height="2" fill="#000"/>
<rect x="615" y="222" width="3" height="2" fill="#000"/>
<rect x="620" y="222" width="1" height="1" fill="#000"/>
<rect x="619" y="222" width="3" height="1" fill="#000"/>
<rect x="624" y="222" width="1" height="2" fill="#000"/>
<rect x="623" y="222" width="3" height="2" fill="#000"/>
<rect x="627" y="222" width="1" height="2" fill="#000"/>
<rect x="626" y="222" width="3" height="2" fill="#000"/>
<rect x="631" y="222" width="1" height="1" fill="#000"/>
<rect x="630" y="222" width="3" height="1" fill="#000"/>
<rect x="635" y="222" width="1" height="2" fill="#000"/>
<rect x="634" y="222" width="3" height="2" fill="#000"/>
<rect x="638" y="222" width="1" height="2" fill="#000"/>
<rect x="637" y="222" width="3" height="2" fill="#000"/>
<rect x="642" y="222" width="1" height="1" fill="#000"/>
<rect x="641" y="222" width="3" height="1" fill="#000"/>
<rect x="646" y="222" width="1" height="2" fill="#000"/>
<rect x="645" y="222" width="3" height="2" fill="#000"/>
<rect x="649" y="222" width="1" height="2" fill="#000"/>
<rect x="648" y="222" width="3" height="2" fill="#000"/>
<rect x="653" y="222" width="1" height="1" fill="#000"/>
<rect x="652" y="222" width="3" height="1" fill="#000"/>
<rect x="657" y="222" width="1" height="2" fill="#000"/>
<rect x="656" y="222" width="3" height="2" fill="#000"/>
<rect x="660" y="222" width="1" height="2" fill="#000"/>
<rect x="659" y="222" width="3" height="2" fill="#000"/>
<rect x="664" y="222" width="1" height="1" fill="#000"/>
<rect x="663" y="222" width="3" height="1" fill="#000"/>
<rect x="668" y="222" width="1" height="2" fill="#000"/>
<rect x="667" y="222" width="3" height="2" fill="#000"/>
<rect x="671" y="222" width="1" height="2" fill="#000"/>
<rect x="670" y="222" width="3" height="2" fill="#000"/>
<rect x="675" y="222" width="1" height="1" fill="#000"/>
<rect x="674" y="222" width="3" height="1" fill="#000"/>
<rect x="678" y="222" width="1" height="2" fill="#000"/>
<rect x="677" y="222" width="3" height="2" fill="#000"/>
<rect x="682" y="222" width="1" height="2" fill="#000"/>
<rect x="681" y="222" width="3" height="2" fill="#000"/>
<rect x="686" y="222" width="1" height="1" fill="#000"/>
<rect x="685" y="222" width="3" height="1" fill="#000"/>
<rect x="689" y="222" width="1" height="2" fill="#000"/>
<rect x="688" y="222" width="3" height="2" fill="#000"/>
<rect x="693" y="222" width="1" height="2" fill="#000"/>
<rect x="692" y="222" width="3" height="2" fill="#000"/>
<rect x="697" y="222" width="1" height="1" fill="#000"/>
<rect x="696" y="222" width="3" height="1" fill="#000"/>
<rect x="700" y="222" width="1" height="2" fill="#000"/>
<rect x="699" y="222" width="3" height="2" fill="#000"/>
<rect x="704" y="222" width="1" height="2" fill="#000"/>
<rect x="703" y="222" width="3" height="2" fill="#000"/>
<rect x="708" y="221" width="1" height="1" fill="#000"/>
<rect x="707" y="221" width="3" height="1" fill="#000"/>
<rect x="711" y="221" width="1" height="2" fill="#000"/>
<rect x="710" y="221" width="3" height="2" fill="#000"/>
<path d="M4 21h3v6h3l-4.5 9l-4.5 -9h3z" fill="#f00"/>
<path d="M414 208h3v6h3l-4.5 9l-4.5 -9h3z" fill="#f00"/>
<path d="M472 205h3v6h3l-4.5 9l-4.5 -9h3z" fill="#f00"/>
<path d="M509 203h3v6h3l-4.5 9l-4.5 -9h3z" fill="#f00"/>
<path d="M516 204h3v6h3l-4.5 9l-4.5 -9h3z" fill="#f00"/>
<path d="M531 202h3v6h3l-4.5 9l-4.5 -9h3z" fill="#f00"/>
<path d="M557 201h3v6h3l-4.5 9l-4.5 -9h3z" fill="#f00"/>
<path d="M593 200h3v6h3l-4.5 9l-4.5 -9h3z" fill="#f00"/>
<path d="M612 200h3v6h3l-4.5 9l-4.5 -9h3z" fill="#f00"/>
<path d="M630 200h3v6h3l-4.5 9l-4.5 -9h3z" fill="#f00"/>
<path d="M637 200h3v6h3l-4.5 9l-4.5 -9h3z" fill="#f00"/>
<path d="M96.5 71l4.5 9h-3v6h-3v-6h-3z" fill="#009900"/>
<path d="M103.5 69l4.5 9h-3v6h-3v-6h-3z" fill="#009900"/>
<path d="M118.5 64l4.5 9h-3v6h-3v-6h-3z" fill="#009900"/>
<path d="M162.5 108l4.5 9h-3v6h-3v-6h-3z" fill="#009900"/>
<path d="M283.5 261l4.5 9h-3v6h-3v-6h-3z" fill="#009900"/>
<path d="M305.5 283l4.5 9h-3v6h-3v-6h-3z" fill="#009900"/>
<path d="M653.5 230l4.5 9h-3v6h-3v-6h-3z" fill="#009900"/>
<path d="M671.5 230l4.5 9h-3v6h-3v-6h-3z" fill="#009900"/>
<path d="M693.5 231l4.5 9h-3v6h-3v-6h-3z" fill="#009900"/>
<path d="M205 18h3v6h3l-4.5 9l-4.5 -9h3z" fill="#f00"/>
<rect x="3" y="5" width="1" height="294" fill="#000"/>
<rect x="719" y="5" width="1" height="294" fill="#000"/>
<rect x="3" y="298" width="717" height="1" fill="#000"/>
<rect x="3" y="5" width="7" height="1" fill="#000"/>
<rect x="425" y="5" width="295" height="1" fill="#000"/>
<rect x="45" y="298" width="1" height="8" fill="#000"/>
<text transform="translate(0,310) scale(1,1.05)" x="49" y="0" fill="#000" text-anchor="start" font-family="Liberation Sans, sans-serif" font-size="12">Dec</text>
<rect x="122" y="298" width="1" height="8" fill="#000"/>
<text transform="translate(0,310) scale(1,1.05)" x="126" y="0" fill="#000" text-anchor="start" font-family="Liberation Sans, sans-serif" font-size="12">2025</text>
<rect x="195" y="298" width="1" height="8" fill="#000"/>
<text transform="translate(0,310) scale(1,1.05)" x="199" y="0" fill="#000" text-anchor="start" font-family="Liberation Sans, sans-serif" font-size="12">Feb</text>
<rect x="268" y="298" width="1" height="8" fill="#000"/>
<text transform="translate(0,310) scale(1,1.05)" x="272" y="0" fill="#000" text-anchor="start" font-family="Liberation Sans, sans-serif" font-size="12">Mar</text>
<rect x="345" y="298" width="1" height="8" fill="#000"/>
<text transform="translate(0,310) scale(1,1.05)" x="349" y="0" fill="#000" text-anchor="start" font-family="Liberation Sans, sans-serif" font-size="12">Apr</text>
<rect x="422" y="298" width="1" height="8" fill="#000"/>
<text transform="translate(0,310) scale(1,1.05)" x="426" y="0" fill="#000" text-anchor="start" font-family="Liberation Sans, sans-serif" font-size="12">May</text>
<rect x="499" y="298" width="1" height="8" fill="#000"/>
<text transform="translate(0,310) scale(1,1.05)" x="503" y="0" fill="#000" text-anchor="start" font-family="Liberation Sans, sans-serif" font-size="12">Jun</text>
<rect x="572" y="298" width="1" height="8" fill="#000"/>
<text transform="translate(0,310) scale(1,1.05)" x="576" y="0" fill="#000" text-anchor="start" font-family="Liberation Sans, sans-serif" font-size="12">Jul</text>
<rect x="653" y="298" width="1" height="8" fill="#000"/>
<text transform="translate(0,310) scale(1,1.05)" x="657" y="0" fill="#000" text-anchor="start" font-family="Liberation Sans, sans-serif" font-size="12">Aug</text>
<text transform="translate(0,310) scale(1,1.05)" x="9" y="0" fill="#000" text-anchor="start" font-family="Liberation Sans, sans-serif" font-size="12">Nov</text>
<text transform="translate(0,20.3) scale(1,1.05)" x="775.6" y="0" fill="#000" text-anchor="end" font-family="Liberation Sans, sans-serif" font-size="12">13</text>
<text transform="translate(0,73.3) scale(1,1.05)" x="775.6" y="0" fill="#000" text-anchor="end" font-family="Liberation Sans, sans-serif" font-size="12">12</text>
<text transform="translate(0,126.3) scale(1,1.05)" x="775.6" y="0" fill="#000" text-anchor="end" font-family="Liberation Sans, sans-serif" font-size="12">11</text>
<text transform="translate(0,179.3) scale(1,1.05)" x="775.6" y="0" fill="#000" text-anchor="end" font-family="Liberation Sans, sans-serif" font-size="12">10</text>
<text transform="translate(0,232.3) scale(1,1.05)" x="775.6" y="0" fill="#000" text-anchor="end" font-family="Liberation Sans, sans-serif" font-size="12">9</text>
<text transform="translate(0,285.3) scale(1,1.05)" x="775.6" y="0" fill="#000" text-anchor="end" font-family="Liberation Sans, sans-serif" font-size="12">8</text>
<rect x="10" y="0" width="412" height="13" fill="#fff"/>
<rect x="10" y="13" width="386" height="15" fill="#fff"/>
<text transform="translate(0,11) scale(1,1.05)" x="10" y="0" font-family="Liberation Sans, sans-serif" font-size="12" textLength="410.5" lengthAdjust="spacingAndGlyphs" xml:space="preserve">DNB - Daily 2025-08-25 Open 9.14  High 9.16  Low 9.14  Close 9.15 (0.4%)</text>
<text transform="translate(0,25) scale(1,1.05)" x="10" y="0" font-family="Liberation Sans, sans-serif" font-size="12" textLength="385.3" lengthAdjust="spacingAndGlyphs" xml:space="preserve">Vol 17,826,710 <tspan fill="#ff00ff">Res-1</tspan> = 9.12, <tspan fill="#ff0000">Res-2</tspan> = 9.12, <tspan fill="#0000ff">Sup-1</tspan> = 9.09, <tspan fill="#009900">Sup-2</tspan> = 9.05</text>
<line x1="4" y1="329.5" x2="719" y2="329.5" stroke="#000" stroke-width="1" stroke-dasharray="1 7"/>
<rect x="720" y="329" width="4" height="1" fill="#000"/>
<line x1="4" y1="348.5" x2="719" y2="348.5" stroke="#000" stroke-width="1" stroke-dasharray="1 7"/>
<rect x="720" y="348" width="4" height="1" fill="#000"/>
<line x1="4" y1="366.5" x2="719" y2="366.5" stroke="#000" stroke-width="1" stroke-dasharray="1 7"/>
<rect x="720" y="366" width="4" height="1" fill="#000"/>
<line x1="4" y1="385.5" x2="719" y2="385.5" stroke="#000" stroke-width="1" stroke-dasharray="1 7"/>
<rect x="720" y="385" width="4" height="1" fill="#000"/>
<line x1="4" y1="404.5" x2="719" y2="404.5" stroke="#000" stroke-width="1" stroke-dasharray="1 7"/>
<rect x="720" y="404" width="4" height="1" fill="#000"/>
<polyline points="4.0,328.5 195.8,328.5 198.3,329.5 203.3,330.5 360.0,330.5 368.3,329.5 402.5,329.5 408.3,326.5 595.8,326.5 597.0,325.5 623.3,325.5 627.5,328.5 648.3,328.5 649.0,329.5 710.0,329.5" fill="none" stroke="#000" stroke-width="1" />
<polyline points="4.0,390.5 135.8,390.5 138.3,396.5 145.0,400.5 147.0,400.5 360.8,400.5 364.2,398.5 366.7,392.5 370.0,388.5 371.7,387.5 440.8,387.5 443.3,385.5 514.2,385.5 515.5,383.5 583.3,383.5 588.3,380.5 598.3,360.5 615.8,360.5 620.8,367.5 648.3,367.5 649.5,369.5 679.2,369.5 683.3,372.5 690.0,384.5 710.8,384.5" fill="none" stroke="#000" stroke-width="1" />
<polyline points="5.3,338.8 11.7,347.2 15.0,353.0 20.0,355.5 24.2,355.0 30.0,345.5 35.8,339.3 41.7,337.2 45.0,338.0 53.3,343.8 63.3,357.2 66.7,359.7 74.2,368.8 81.7,373.5 85.0,372.2 91.7,373.0 96.7,370.5 104.2,370.0 110.0,363.8 115.0,363.3 120.0,354.5 125.8,348.8 130.0,351.3 134.2,364.7 138.3,376.3 144.2,386.3 148.3,389.7 152.5,388.8 158.3,383.0 168.3,371.3 176.7,362.2 181.7,353.8 186.7,347.2 193.3,338.0 200.0,334.7 204.2,333.3 208.3,339.7 213.3,354.7 220.0,367.2 225.0,375.5 230.0,378.8 236.7,379.3 240.0,378.2 245.0,381.0 250.0,382.7 260.0,382.2 266.7,378.8 275.0,376.3 284.2,373.3 287.5,374.7 293.3,379.7 298.3,382.7 302.5,382.2 306.7,377.2 315.0,366.3 321.7,355.5 326.7,347.2 331.7,341.7 340.0,341.3 348.3,343.8 353.3,346.0 357.5,352.2 360.0,357.2 363.3,366.3 367.5,371.3 374.2,374.7 378.3,370.5 387.5,362.2 393.3,359.7 398.3,351.3 405.0,339.7 411.7,335.2 415.0,337.2 421.7,343.8 430.0,350.5 438.3,354.7 445.0,358.3 458.3,358.3 465.0,354.7 470.8,346.3 476.7,343.8 485.0,341.7 492.5,338.0 505.8,333.3 511.7,338.0 517.5,341.3 524.2,334.7 528.3,332.2 535.0,336.3 541.7,336.7 546.7,338.0 555.0,338.8 560.0,341.3 565.8,342.7 573.3,337.7 583.3,334.3 590.0,330.0 597.5,333.8 605.0,341.0 611.7,343.8 616.7,351.3 620.8,357.7 624.2,355.5 627.5,349.7 631.7,352.2 635.0,351.0 641.7,353.8 649.2,363.0 653.3,363.3 663.3,360.5 666.7,361.7 673.3,361.7 681.7,367.2 690.0,377.2 695.0,375.5 701.7,368.8 708.3,355.5 711.3,346.3" fill="none" stroke="#0000ff" stroke-width="1" />
<polyline points="5.3,342.2 11.7,355.5 15.8,365.5 19.2,364.3 23.3,358.0 27.5,343.0 30.8,334.7 34.2,329.7 38.3,329.7 44.2,334.7 53.3,348.8 62.5,367.2 66.7,369.7 74.2,378.0 79.2,380.5 85.0,374.7 91.7,373.8 96.7,367.2 103.3,368.0 111.7,358.0 115.0,360.5 120.0,346.5 125.0,338.8 129.2,348.0 132.5,363.0 136.7,388.0 140.8,402.2 144.2,404.3 147.5,401.3 153.3,388.0 160.0,373.0 167.5,362.2 173.3,357.2 177.5,348.8 180.0,341.3 184.2,338.0 190.0,328.8 193.3,326.0 196.5,326.0 200.0,328.8 205.0,333.0 207.5,339.7 210.8,358.0 213.3,371.3 217.5,383.8 223.3,390.5 230.0,388.0 239.2,377.7 245.0,382.2 250.8,385.5 260.0,382.2 266.7,375.5 275.0,372.2 280.0,373.0 284.2,371.3 287.5,373.8 293.3,383.8 297.5,388.3 301.7,384.7 305.8,376.3 309.2,364.7 317.5,347.2 323.3,336.3 327.5,331.3 330.8,331.3 335.8,335.5 341.7,341.3 346.7,344.7 351.7,348.0 355.8,355.5 360.0,368.0 363.3,383.0 367.5,386.3 370.8,383.8 376.7,373.0 385.0,358.0 390.0,354.3 394.2,353.8 397.5,348.0 403.3,329.7 407.5,323.8 410.8,325.5 415.0,334.7 420.0,348.0 426.7,355.5 435.0,358.8 445.0,362.2 453.3,359.7 461.7,357.2 466.7,350.5 470.0,339.7 474.2,336.3 482.5,340.0 488.3,338.0 491.7,333.3 505.8,330.0 510.0,338.0 517.0,347.2 524.2,328.0 528.3,326.3 535.0,339.3 540.0,339.3 543.3,338.0 546.7,339.3 554.2,339.7 557.5,343.0 562.5,345.5 565.8,344.7 571.7,334.7 577.5,330.0 580.8,331.3 590.0,326.0 596.7,336.3 600.8,343.0 605.0,348.5 611.7,348.0 616.7,360.5 620.8,370.5 624.2,359.7 627.5,346.3 634.2,350.5 642.5,355.5 646.7,367.2 649.5,372.2 653.3,369.7 658.3,360.5 664.2,357.2 666.7,361.3 673.3,361.7 678.3,368.0 683.3,374.7 690.0,387.7 693.3,382.2 700.0,366.3 705.0,351.3 708.3,343.0 711.3,325.0" fill="none" stroke="#ff0000" stroke-width="1" />
<rect x="3" y="319" width="1" height="88" fill="#000"/>
<rect x="719" y="319" width="1" height="88" fill="#000"/>
<rect x="3" y="406" width="717" height="1" fill="#000"/>
<rect x="3" y="319" width="7" height="1" fill="#000"/>
<rect x="359" y="319" width="361" height="1" fill="#000"/>
<text transform="translate(0,333.3) scale(1,1.05)" x="775.6" y="0" fill="#000" text-anchor="end" font-family="Liberation Sans, sans-serif" font-size="12">80</text>
<text transform="translate(0,352.3) scale(1,1.05)" x="775.6" y="0" fill="#000" text-anchor="end" font-family="Liberation Sans, sans-serif" font-size="12">60</text>
<text transform="translate(0,370.3) scale(1,1.05)" x="775.6" y="0" fill="#000" text-anchor="end" font-family="Liberation Sans, sans-serif" font-size="12">40</text>
<text transform="translate(0,389.3) scale(1,1.05)" x="775.6" y="0" fill="#000" text-anchor="end" font-family="Liberation Sans, sans-serif" font-size="12">20</text>
<text transform="translate(0,408.3) scale(1,1.05)" x="775.6" y="0" fill="#000" text-anchor="end" font-family="Liberation Sans, sans-serif" font-size="12">0</text>
<rect x="10" y="314" width="348" height="13" fill="#fff"/>
<text transform="translate(0,325) scale(1,1.05)" x="10" y="0" font-family="Liberation Sans, sans-serif" font-size="12" textLength="348" lengthAdjust="spacingAndGlyphs" xml:space="preserve">DNB - <tspan fill="#ff0000">Line</tspan> = 85.03, Top = 81.68, Bottom = 21.41, <tspan fill="#0000ff">Signal</tspan> = 63.01</text>
<line x1="4" y1="458.5" x2="719" y2="458.5" stroke="#000" stroke-width="1" stroke-dasharray="1 7"/>
<rect x="720" y="458" width="4" height="1" fill="#000"/>
<line x1="4" y1="506.5" x2="719" y2="506.5" stroke="#000" stroke-width="1" stroke-dasharray="1 7"/>
<rect x="720" y="506" width="4" height="1" fill="#000"/>
<line x1="4" y1="554.5" x2="719" y2="554.5" stroke="#000" stroke-width="1" stroke-dasharray="1 7"/>
<rect x="720" y="554" width="4" height="1" fill="#000"/>
<line x1="4" y1="602.5" x2="719" y2="602.5" stroke="#000" stroke-width="1" stroke-dasharray="1 7"/>
<rect x="720" y="602" width="4" height="1" fill="#000"/>
<line x1="4" y1="650.5" x2="719" y2="650.5" stroke="#000" stroke-width="1" stroke-dasharray="1 7"/>
<rect x="720" y="650" width="4" height="1" fill="#000"/>
<line x1="4" y1="698.5" x2="719" y2="698.5" stroke="#000" stroke-width="1" stroke-dasharray="1 7"/>
<rect x="720" y="698" width="4" height="1" fill="#000"/>
<line x1="122.5" y1="440" x2="122.5" y2="731" stroke="#000" stroke-width="1" stroke-dasharray="1 7"/>
<polyline points="5.2,443.1 8.7,442.6 13.1,449.2 19.2,459.7 24.4,464.0 28.8,459.7 34.0,449.2 38.7,439.6 42.0,434.0 47.0,430.5 52.0,434.0 55.5,439.6 60.2,449.2 67.2,466.6 75.0,482.4 83.8,494.6 91.6,506.8 99.5,520.8 106.5,528.6 113.4,532.6 119.5,529.5 124.8,519.0 129.6,510.6 133.1,509.4 137.5,517.3 140.9,529.5 144.4,543.4 146.6,554.0 151.0,568.8 155.3,577.5 158.8,580.5 163.2,577.5 169.3,568.0 177.1,556.6 182.8,548.7 189.8,531.2 195.0,512.0 200.3,492.8 205.5,471.9 209.0,467.0 211.6,469.3 215.1,480.6 219.5,505.0 224.7,538.2 227.7,562.7 231.2,580.1 234.7,595.8 241.7,611.5 245.2,622.0 250.5,636.2 257.5,651.9 264.4,669.3 274.9,685.0 285.4,699.0 294.1,711.2 299.3,720.0 305.4,725.2 308.9,725.2 313.3,720.8 317.7,712.1 322.0,695.5 327.3,674.6 332.5,657.1 339.5,637.9 346.5,625.7 353.4,618.4 357.8,617.0 362.2,621.3 367.0,632.0 373.1,645.0 377.5,650.6 385.3,653.2 394.9,650.6 401.9,645.0 406.2,636.3 412.4,620.6 417.6,612.8 422.0,612.2 429.8,618.0 442.0,624.1 450.8,631.1 463.0,641.6 473.4,650.3 480.4,660.8 484.8,665.6 489.6,667.4 494.8,662.5 500.0,653.8 502.7,643.3 507.9,631.1 513.2,622.0 517.5,620.3 530.6,620.6 539.3,625.0 545.4,628.5 549.8,628.1 556.8,625.5 565.5,623.2 572.5,620.3 583.0,611.0 590.0,607.5 596.0,602.8 602.2,603.2 610.6,604.6 617.6,607.6 623.5,613.5 632.9,617.7 642.3,621.7 648.2,632.3 654.1,644.0 660.0,651.1 670.5,652.3 677.6,655.1 683.5,659.8 690.5,662.4 696.4,659.3 703.4,648.8 708.1,640.5 711.7,636.3" fill="none" stroke="#0000ff" stroke-width="1" />
<line x1="4" y1="473.5" x2="10" y2="473.5" stroke="#ff0000" stroke-width="3" stroke-dasharray="6 1 3 1"/>
<line x1="12" y1="473.5" x2="32" y2="473.5" stroke="#ff0000" stroke-width="3" stroke-dasharray="6 1 3 1"/>
<line x1="33" y1="469.5" x2="124" y2="469.5" stroke="#ff0000" stroke-width="3" stroke-dasharray="6 1 3 1"/>
<line x1="123" y1="487.5" x2="202" y2="487.5" stroke="#ff0000" stroke-width="3" stroke-dasharray="6 1 3 1"/>
<line x1="209" y1="506.5" x2="248" y2="506.5" stroke="#ff0000" stroke-width="3" stroke-dasharray="6 1 3 1"/>
<line x1="249" y1="506.5" x2="402" y2="506.5" stroke="#ff0000" stroke-width="3" stroke-dasharray="6 1 3 1"/>
<line x1="403" y1="643.5" x2="501" y2="643.5" stroke="#ff0000" stroke-width="3" stroke-dasharray="6 1 3 1"/>
<line x1="501" y1="649.5" x2="525" y2="649.5" stroke="#ff0000" stroke-width="3" stroke-dasharray="6 1 3 1"/>
<line x1="526" y1="647.5" x2="581" y2="647.5" stroke="#ff0000" stroke-width="3" stroke-dasharray="6 1 3 1"/>
<line x1="582" y1="645.5" x2="596" y2="645.5" stroke="#ff0000" stroke-width="3" stroke-dasharray="6 1 3 1"/>
<line x1="597" y1="644.5" x2="610" y2="644.5" stroke="#ff0000" stroke-width="3" stroke-dasharray="6 1 3 1"/>
<line x1="611" y1="645.5" x2="625" y2="645.5" stroke="#ff0000" stroke-width="3" stroke-dasharray="6 1 3 1"/>
<line x1="626" y1="644.5" x2="713" y2="644.5" stroke="#ff0000" stroke-width="3" stroke-dasharray="6 1 3 1"/>
<line x1="4" y1="562.5" x2="98" y2="562.5" stroke="#009900" stroke-width="3" stroke-dasharray="6 1 3 1"/>
<line x1="99" y1="501.5" x2="116" y2="501.5" stroke="#009900" stroke-width="3" stroke-dasharray="6 1 3 1"/>
<line x1="117" y1="495.5" x2="149" y2="495.5" stroke="#009900" stroke-width="3" stroke-dasharray="6 1 3 1"/>
<line x1="150" y1="550.5" x2="230" y2="550.5" stroke="#009900" stroke-width="3" stroke-dasharray="6 1 3 1"/>
<line x1="231" y1="572.5" x2="245" y2="572.5" stroke="#009900" stroke-width="3" stroke-dasharray="6 1 3 1"/>
<line x1="245" y1="644.5" x2="281" y2="644.5" stroke="#009900" stroke-width="3" stroke-dasharray="6 1 3 1"/>
<line x1="283" y1="674.5" x2="299" y2="674.5" stroke="#009900" stroke-width="3" stroke-dasharray="6 1 3 1"/>
<line x1="300" y1="708.5" x2="680" y2="708.5" stroke="#009900" stroke-width="3" stroke-dasharray="6 1 3 1"/>
<line x1="681" y1="646.5" x2="713" y2="646.5" stroke="#009900" stroke-width="3" stroke-dasharray="6 1 3 1"/>
<rect x="5" y="483" width="1" height="9" fill="#000"/>
<rect x="4" y="483" width="3" height="9" fill="#000"/>
<rect x="8" y="492" width="1" height="9" fill="#000"/>
<rect x="7" y="492" width="3" height="9" fill="#000"/>
<rect x="12" y="496" width="1" height="10" fill="#000"/>
<rect x="11" y="496" width="3" height="7" fill="#000"/>
<rect x="15" y="506" width="1" height="4" fill="#000"/>
<rect x="14" y="507" width="3" height="3" fill="#000"/>
<rect x="19" y="492" width="1" height="20" fill="#000"/>
<rect x="18" y="492" width="3" height="18" fill="#000"/>
<rect x="19" y="493" width="1" height="16" fill="#fff"/>
<rect x="23" y="488" width="1" height="3" fill="#000"/>
<rect x="22" y="488" width="3" height="3" fill="#000"/>
<rect x="23" y="489" width="1" height="1" fill="#fff"/>
<rect x="26" y="475" width="1" height="13" fill="#000"/>
<rect x="25" y="477" width="3" height="11" fill="#000"/>
<rect x="26" y="478" width="1" height="9" fill="#fff"/>
<rect x="30" y="461" width="1" height="13" fill="#000"/>
<rect x="29" y="469" width="3" height="2" fill="#000"/>
<rect x="34" y="467" width="1" height="11" fill="#000"/>
<rect x="33" y="470" width="3" height="3" fill="#000"/>
<rect x="34" y="471" width="1" height="1" fill="#fff"/>
<rect x="37" y="463" width="1" height="10" fill="#000"/>
<rect x="36" y="467" width="3" height="6" fill="#000"/>
<rect x="41" y="472" width="1" height="9" fill="#000"/>
<rect x="40" y="472" width="3" height="4" fill="#000"/>
<rect x="41" y="473" width="1" height="2" fill="#fff"/>
<rect x="45" y="461" width="1" height="12" fill="#000"/>
<rect x="44" y="468" width="3" height="5" fill="#000"/>
<rect x="48" y="471" width="1" height="8" fill="#000"/>
<rect x="47" y="475" width="3" height="4" fill="#000"/>
<rect x="52" y="476" width="1" height="7" fill="#000"/>
<rect x="51" y="476" width="3" height="4" fill="#000"/>
<rect x="52" y="477" width="1" height="2" fill="#fff"/>
<rect x="56" y="477" width="1" height="9" fill="#000"/>
<rect x="55" y="477" width="3" height="9" fill="#000"/>
<rect x="59" y="480" width="1" height="6" fill="#000"/>
<rect x="58" y="480" width="3" height="6" fill="#000"/>
<rect x="63" y="480" width="1" height="11" fill="#000"/>
<rect x="62" y="483" width="3" height="8" fill="#000"/>
<rect x="67" y="480" width="1" height="14" fill="#000"/>
<rect x="66" y="485" width="3" height="6" fill="#000"/>
<rect x="67" y="486" width="1" height="4" fill="#fff"/>
<rect x="70" y="481" width="1" height="7" fill="#000"/>
<rect x="69" y="484" width="3" height="4" fill="#000"/>
<rect x="74" y="488" width="1" height="7" fill="#000"/>
<rect x="73" y="488" width="3" height="7" fill="#000"/>
<rect x="78" y="492" width="1" height="3" fill="#000"/>
<rect x="77" y="492" width="3" height="3" fill="#000"/>
<rect x="78" y="493" width="1" height="1" fill="#fff"/>
<rect x="81" y="486" width="1" height="7" fill="#000"/>
<rect x="80" y="492" width="3" height="1" fill="#000"/>
<rect x="85" y="482" width="1" height="12" fill="#000"/>
<rect x="84" y="490" width="3" height="4" fill="#000"/>
<rect x="85" y="491" width="1" height="2" fill="#fff"/>
<rect x="89" y="487" width="1" height="10" fill="#000"/>
<rect x="88" y="491" width="3" height="6" fill="#000"/>
<rect x="92" y="494" width="1" height="6" fill="#000"/>
<rect x="91" y="494" width="3" height="3" fill="#000"/>
<rect x="96" y="486" width="1" height="15" fill="#000"/>
<rect x="95" y="488" width="3" height="9" fill="#000"/>
<rect x="96" y="489" width="1" height="7" fill="#fff"/>
<rect x="100" y="489" width="1" height="12" fill="#000"/>
<rect x="99" y="489" width="3" height="10" fill="#000"/>
<rect x="103" y="494" width="1" height="5" fill="#000"/>
<rect x="102" y="494" width="3" height="2" fill="#000"/>
<rect x="107" y="491" width="1" height="9" fill="#000"/>
<rect x="106" y="491" width="3" height="9" fill="#000"/>
<rect x="107" y="492" width="1" height="7" fill="#fff"/>
<rect x="111" y="486" width="1" height="7" fill="#000"/>
<rect x="110" y="490" width="3" height="2" fill="#000"/>
<rect x="114" y="494" width="1" height="8" fill="#000"/>
<rect x="113" y="494" width="3" height="3" fill="#000"/>
<rect x="118" y="483" width="1" height="11" fill="#000"/>
<rect x="117" y="483" width="3" height="11" fill="#000"/>
<rect x="118" y="484" width="1" height="9" fill="#fff"/>
<rect x="122" y="475" width="1" height="16" fill="#000"/>
<rect x="121" y="483" width="3" height="8" fill="#000"/>
<rect x="125" y="488" width="1" height="6" fill="#000"/>
<rect x="124" y="488" width="3" height="5" fill="#000"/>
<rect x="125" y="489" width="1" height="3" fill="#fff"/>
<rect x="129" y="485" width="1" height="10" fill="#000"/>
<rect x="128" y="485" width="3" height="10" fill="#000"/>
<rect x="133" y="488" width="1" height="24" fill="#000"/>
<rect x="132" y="495" width="3" height="17" fill="#000"/>
<rect x="136" y="513" width="1" height="13" fill="#000"/>
<rect x="135" y="518" width="3" height="7" fill="#000"/>
<rect x="140" y="529" width="1" height="12" fill="#000"/>
<rect x="139" y="530" width="3" height="9" fill="#000"/>
<rect x="144" y="536" width="1" height="11" fill="#000"/>
<rect x="143" y="539" width="3" height="6" fill="#000"/>
<rect x="147" y="538" width="1" height="19" fill="#000"/>
<rect x="146" y="539" width="3" height="11" fill="#000"/>
<rect x="151" y="537" width="1" height="13" fill="#000"/>
<rect x="150" y="539" width="3" height="4" fill="#000"/>
<rect x="155" y="536" width="1" height="9" fill="#000"/>
<rect x="154" y="540" width="3" height="3" fill="#000"/>
<rect x="155" y="541" width="1" height="1" fill="#fff"/>
<rect x="158" y="534" width="1" height="6" fill="#000"/>
<rect x="157" y="536" width="3" height="4" fill="#000"/>
<rect x="162" y="530" width="1" height="4" fill="#000"/>
<rect x="161" y="533" width="3" height="1" fill="#000"/>
<rect x="166" y="525" width="1" height="9" fill="#000"/>
<rect x="165" y="525" width="3" height="9" fill="#000"/>
<rect x="166" y="526" width="1" height="7" fill="#fff"/>
<rect x="169" y="525" width="1" height="11" fill="#000"/>
<rect x="168" y="525" width="3" height="10" fill="#000"/>
<rect x="173" y="526" width="1" height="8" fill="#000"/>
<rect x="172" y="530" width="3" height="4" fill="#000"/>
<rect x="173" y="531" width="1" height="2" fill="#fff"/>
<rect x="177" y="518" width="1" height="13" fill="#000"/>
<rect x="176" y="518" width="3" height="13" fill="#000"/>
<rect x="177" y="519" width="1" height="11" fill="#fff"/>
<rect x="180" y="511" width="1" height="6" fill="#000"/>
<rect x="179" y="511" width="3" height="6" fill="#000"/>
<rect x="180" y="512" width="1" height="4" fill="#fff"/>
<rect x="184" y="510" width="1" height="21" fill="#000"/>
<rect x="183" y="512" width="3" height="12" fill="#000"/>
<rect x="188" y="499" width="1" height="23" fill="#000"/>
<rect x="187" y="499" width="3" height="22" fill="#000"/>
<rect x="188" y="500" width="1" height="20" fill="#fff"/>
<rect x="191" y="481" width="1" height="19" fill="#000"/>
<rect x="190" y="491" width="3" height="8" fill="#000"/>
<rect x="191" y="492" width="1" height="6" fill="#fff"/>
<rect x="195" y="487" width="1" height="16" fill="#000"/>
<rect x="194" y="499" width="3" height="3" fill="#000"/>
<rect x="195" y="500" width="1" height="1" fill="#fff"/>
<rect x="199" y="488" width="1" height="16" fill="#000"/>
<rect x="198" y="492" width="3" height="6" fill="#000"/>
<rect x="199" y="493" width="1" height="4" fill="#fff"/>
<rect x="202" y="481" width="1" height="18" fill="#000"/>
<rect x="201" y="483" width="3" height="11" fill="#000"/>
<rect x="202" y="484" width="1" height="9" fill="#fff"/>
<rect x="206" y="479" width="1" height="23" fill="#000"/>
<rect x="205" y="479" width="3" height="21" fill="#000"/>
<rect x="210" y="507" width="1" height="48" fill="#000"/>
<rect x="209" y="511" width="3" height="33" fill="#000"/>
<rect x="213" y="507" width="1" height="48" fill="#000"/>
<rect x="212" y="511" width="3" height="33" fill="#000"/>
<rect x="217" y="541" width="1" height="14" fill="#000"/>
<rect x="216" y="541" width="3" height="14" fill="#000"/>
<rect x="221" y="552" width="1" height="7" fill="#000"/>
<rect x="220" y="555" width="3" height="2" fill="#000"/>
<rect x="224" y="560" width="1" height="12" fill="#000"/>
<rect x="223" y="562" width="3" height="7" fill="#000"/>
<rect x="228" y="569" width="1" height="8" fill="#000"/>
<rect x="227" y="569" width="3" height="6" fill="#000"/>
<rect x="228" y="570" width="1" height="4" fill="#fff"/>
<rect x="232" y="562" width="1" height="10" fill="#000"/>
<rect x="231" y="567" width="3" height="5" fill="#000"/>
<rect x="235" y="570" width="1" height="10" fill="#000"/>
<rect x="234" y="572" width="3" height="2" fill="#000"/>
<rect x="239" y="573" width="1" height="7" fill="#000"/>
<rect x="238" y="576" width="3" height="1" fill="#000"/>
<rect x="243" y="607" width="1" height="48" fill="#000"/>
<rect x="242" y="607" width="3" height="23" fill="#000"/>
<rect x="246" y="625" width="1" height="18" fill="#000"/>
<rect x="245" y="625" width="3" height="5" fill="#000"/>
<rect x="250" y="631" width="1" height="18" fill="#000"/>
<rect x="249" y="631" width="3" height="9" fill="#000"/>
<rect x="254" y="637" width="1" height="12" fill="#000"/>
<rect x="253" y="637" width="3" height="8" fill="#000"/>
<rect x="257" y="645" width="1" height="6" fill="#000"/>
<rect x="256" y="646" width="3" height="3" fill="#000"/>
<rect x="257" y="647" width="1" height="1" fill="#fff"/>
<rect x="261" y="638" width="1" height="13" fill="#000"/>
<rect x="260" y="646" width="3" height="4" fill="#000"/>
<rect x="261" y="647" width="1" height="2" fill="#fff"/>
<rect x="265" y="642" width="1" height="8" fill="#000"/>
<rect x="264" y="646" width="3" height="4" fill="#000"/>
<rect x="265" y="647" width="1" height="2" fill="#fff"/>
<rect x="268" y="638" width="1" height="14" fill="#000"/>
<rect x="267" y="646" width="3" height="6" fill="#000"/>
<rect x="272" y="646" width="1" height="14" fill="#000"/>
<rect x="271" y="654" width="3" height="2" fill="#000"/>
<rect x="276" y="654" width="1" height="14" fill="#000"/>
<rect x="275" y="654" width="3" height="13" fill="#000"/>
<rect x="279" y="668" width="1" height="9" fill="#000"/>
<rect x="278" y="669" width="3" height="3" fill="#000"/>
<rect x="283" y="655" width="1" height="18" fill="#000"/>
<rect x="282" y="659" width="3" height="13" fill="#000"/>
<rect x="283" y="660" width="1" height="11" fill="#fff"/>
<rect x="287" y="661" width="1" height="18" fill="#000"/>
<rect x="286" y="665" width="3" height="14" fill="#000"/>
<rect x="290" y="678" width="1" height="18" fill="#000"/>
<rect x="289" y="678" width="3" height="18" fill="#000"/>
<rect x="294" y="691" width="1" height="8" fill="#000"/>
<rect x="293" y="693" width="3" height="6" fill="#000"/>
<rect x="298" y="699" width="1" height="10" fill="#000"/>
<rect x="297" y="699" width="3" height="6" fill="#000"/>
<rect x="301" y="695" width="1" height="12" fill="#000"/>
<rect x="300" y="695" width="3" height="7" fill="#000"/>
<rect x="301" y="696" width="1" height="5" fill="#fff"/>
<rect x="305" y="685" width="1" height="8" fill="#000"/>
<rect x="304" y="685" width="3" height="8" fill="#000"/>
<rect x="305" y="686" width="1" height="6" fill="#fff"/>
<rect x="309" y="678" width="1" height="10" fill="#000"/>
<rect x="308" y="682" width="3" height="4" fill="#000"/>
<rect x="309" y="683" width="1" height="2" fill="#fff"/>
<rect x="312" y="665" width="1" height="17" fill="#000"/>
<rect x="311" y="665" width="3" height="16" fill="#000"/>
<rect x="312" y="666" width="1" height="14" fill="#fff"/>
<rect x="316" y="662" width="1" height="13" fill="#000"/>
<rect x="315" y="666" width="3" height="9" fill="#000"/>
<rect x="320" y="651" width="1" height="31" fill="#000"/>
<rect x="319" y="662" width="3" height="15" fill="#000"/>
<rect x="320" y="663" width="1" height="13" fill="#fff"/>
<rect x="323" y="648" width="1" height="2" fill="#000"/>
<rect x="322" y="648" width="3" height="2" fill="#000"/>
<rect x="327" y="652" width="1" height="2" fill="#000"/>
<rect x="326" y="652" width="3" height="2" fill="#000"/>
<rect x="331" y="652" width="1" height="2" fill="#000"/>
<rect x="330" y="652" width="3" height="2" fill="#000"/>
<rect x="334" y="652" width="1" height="2" fill="#000"/>
<rect x="333" y="652" width="3" height="2" fill="#000"/>
<rect x="338" y="652" width="1" height="2" fill="#000"/>
<rect x="337" y="652" width="3" height="2" fill="#000"/>
<rect x="341" y="652" width="1" height="2" fill="#000"/>
<rect x="340" y="652" width="3" height="2" fill="#000"/>
<rect x="345" y="652" width="1" height="3" fill="#000"/>
<rect x="344" y="652" width="3" height="3" fill="#000"/>
<rect x="345" y="653" width="1" height="1" fill="#fff"/>
<rect x="349" y="650" width="1" height="4" fill="#000"/>
<rect x="348" y="650" width="3" height="4" fill="#000"/>
<rect x="349" y="651" width="1" height="2" fill="#fff"/>
<rect x="352" y="652" width="1" height="4" fill="#000"/>
<rect x="351" y="653" width="3" height="1" fill="#000"/>
<rect x="356" y="656" width="1" height="7" fill="#000"/>
<rect x="355" y="656" width="3" height="7" fill="#000"/>
<rect x="360" y="661" width="1" height="17" fill="#000"/>
<rect x="359" y="666" width="3" height="3" fill="#000"/>
<rect x="363" y="661" width="1" height="19" fill="#000"/>
<rect x="362" y="664" width="3" height="16" fill="#000"/>
<rect x="367" y="666" width="1" height="24" fill="#000"/>
<rect x="366" y="668" width="3" height="12" fill="#000"/>
<rect x="367" y="669" width="1" height="10" fill="#fff"/>
<rect x="371" y="666" width="1" height="10" fill="#000"/>
<rect x="370" y="669" width="3" height="2" fill="#000"/>
<rect x="374" y="664" width="1" height="7" fill="#000"/>
<rect x="373" y="668" width="3" height="3" fill="#000"/>
<rect x="374" y="669" width="1" height="1" fill="#fff"/>
<rect x="378" y="662" width="1" height="3" fill="#000"/>
<rect x="377" y="662" width="3" height="3" fill="#000"/>
<rect x="378" y="663" width="1" height="1" fill="#fff"/>
<rect x="382" y="661" width="1" height="2" fill="#000"/>
<rect x="381" y="661" width="3" height="2" fill="#000"/>
<rect x="385" y="661" width="1" height="3" fill="#000"/>
<rect x="384" y="661" width="3" height="3" fill="#000"/>
<rect x="385" y="662" width="1" height="1" fill="#fff"/>
<rect x="389" y="661" width="1" height="3" fill="#000"/>
<rect x="388" y="661" width="3" height="3" fill="#000"/>
<rect x="389" y="662" width="1" height="1" fill="#fff"/>
<rect x="393" y="662" width="1" height="3" fill="#000"/>
<rect x="392" y="662" width="3" height="3" fill="#000"/>
<rect x="393" y="663" width="1" height="1" fill="#fff"/>
<rect x="396" y="660" width="1" height="4" fill="#000"/>
<rect x="395" y="660" width="3" height="4" fill="#000"/>
<rect x="396" y="661" width="1" height="2" fill="#fff"/>
<rect x="400" y="643" width="1" height="4" fill="#000"/>
<rect x="399" y="643" width="3" height="4" fill="#000"/>
<rect x="400" y="644" width="1" height="2" fill="#fff"/>
<rect x="404" y="642" width="1" height="4" fill="#000"/>
<rect x="403" y="643" width="3" height="3" fill="#000"/>
<rect x="404" y="644" width="1" height="1" fill="#fff"/>
<rect x="407" y="641" width="1" height="3" fill="#000"/>
<rect x="406" y="641" width="3" height="3" fill="#000"/>
<rect x="407" y="642" width="1" height="1" fill="#fff"/>
<rect x="411" y="641" width="1" height="3" fill="#000"/>
<rect x="410" y="641" width="3" height="3" fill="#000"/>
<rect x="411" y="642" width="1" height="1" fill="#fff"/>
<rect x="415" y="652" width="1" height="2" fill="#000"/>
<rect x="414" y="652" width="3" height="2" fill="#000"/>
<rect x="418" y="651" width="1" height="3" fill="#000"/>
<rect x="417" y="651" width="3" height="3" fill="#000"/>
<rect x="418" y="652" width="1" height="1" fill="#fff"/>
<rect x="422" y="646" width="1" height="7" fill="#000"/>
<rect x="421" y="650" width="3" height="3" fill="#000"/>
<rect x="426" y="648" width="1" height="4" fill="#000"/>
<rect x="425" y="648" width="3" height="4" fill="#000"/>
<rect x="429" y="652" width="1" height="1" fill="#000"/>
<rect x="428" y="652" width="3" height="1" fill="#000"/>
<rect x="433" y="652" width="1" height="1" fill="#000"/>
<rect x="432" y="652" width="3" height="1" fill="#000"/>
<rect x="437" y="651" width="1" height="1" fill="#000"/>
<rect x="436" y="651" width="3" height="1" fill="#000"/>
<rect x="440" y="651" width="1" height="1" fill="#000"/>
<rect x="439" y="651" width="3" height="1" fill="#000"/>
<rect x="444" y="651" width="1" height="1" fill="#000"/>
<rect x="443" y="651" width="3" height="1" fill="#000"/>
<rect x="448" y="651" width="1" height="1" fill="#000"/>
<rect x="447" y="651" width="3" height="1" fill="#000"/>
<rect x="451" y="651" width="1" height="1" fill="#000"/>
<rect x="450" y="651" width="3" height="1" fill="#000"/>
<rect x="455" y="651" width="1" height="1" fill="#000"/>
<rect x="454" y="651" width="3" height="1" fill="#000"/>
<rect x="459" y="651" width="1" height="2" fill="#000"/>
<rect x="458" y="651" width="3" height="2" fill="#000"/>
<rect x="462" y="651" width="1" height="1" fill="#000"/>
<rect x="461" y="651" width="3" height="1" fill="#000"/>
<rect x="466" y="651" width="1" height="1" fill="#000"/>
<rect x="465" y="651" width="3" height="1" fill="#000"/>
<rect x="470" y="651" width="1" height="1" fill="#000"/>
<rect x="469" y="651" width="3" height="1" fill="#000"/>
<rect x="473" y="651" width="1" height="2" fill="#000"/>
<rect x="472" y="651" width="3" height="2" fill="#000"/>
<rect x="477" y="651" width="1" height="1" fill="#000"/>
<rect x="476" y="651" width="3" height="1" fill="#000"/>
<rect x="481" y="650" width="1" height="1" fill="#000"/>
<rect x="480" y="650" width="3" height="1" fill="#000"/>
<rect x="484" y="650" width="1" height="1" fill="#000"/>
<rect x="483" y="650" width="3" height="1" fill="#000"/>
<rect x="488" y="650" width="1" height="1" fill="#000"/>
<rect x="487" y="650" width="3" height="1" fill="#000"/>
<rect x="492" y="650" width="1" height="1" fill="#000"/>
<rect x="491" y="650" width="3" height="1" fill="#000"/>
<rect x="495" y="650" width="1" height="1" fill="#000"/>
<rect x="494" y="650" width="3" height="1" fill="#000"/>
<rect x="499" y="650" width="1" height="1" fill="#000"/>
<rect x="498" y="650" width="3" height="1" fill="#000"/>
<rect x="503" y="650" width="1" height="2" fill="#000"/>
<rect x="502" y="650" width="3" height="2" fill="#000"/>
<rect x="506" y="649" width="1" height="1" fill="#000"/>
<rect x="505" y="649" width="3" height="1" fill="#000"/>
<rect x="510" y="649" width="1" height="1" fill="#000"/>
<rect x="509" y="649" width="3" height="1" fill="#000"/>
<rect x="514" y="649" width="1" height="1" fill="#000"/>
<rect x="513" y="649" width="3" height="1" fill="#000"/>
<rect x="517" y="648" width="1" height="2" fill="#000"/>
<rect x="516" y="648" width="3" height="2" fill="#000"/>
<rect x="521" y="647" width="1" height="1" fill="#000"/>
<rect x="520" y="647" width="3" height="1" fill="#000"/>
<rect x="525" y="646" width="1" height="2" fill="#000"/>
<rect x="524" y="646" width="3" height="2" fill="#000"/>
<rect x="528" y="646" width="1" height="2" fill="#000"/>
<rect x="527" y="646" width="3" height="2" fill="#000"/>
<rect x="532" y="646" width="1" height="1" fill="#000"/>
<rect x="531" y="646" width="3" height="1" fill="#000"/>
<rect x="536" y="646" width="1" height="2" fill="#000"/>
<rect x="535" y="646" width="3" height="2" fill="#000"/>
<rect x="539" y="646" width="1" height="2" fill="#000"/>
<rect x="538" y="646" width="3" height="2" fill="#000"/>
<rect x="543" y="646" width="1" height="1" fill="#000"/>
<rect x="542" y="646" width="3" height="1" fill="#000"/>
<rect x="547" y="646" width="1" height="2" fill="#000"/>
<rect x="546" y="646" width="3" height="2" fill="#000"/>
<rect x="550" y="646" width="1" height="2" fill="#000"/>
<rect x="549" y="646" width="3" height="2" fill="#000"/>
<rect x="554" y="646" width="1" height="1" fill="#000"/>
<rect x="553" y="646" width="3" height="1" fill="#000"/>
<rect x="558" y="646" width="1" height="2" fill="#000"/>
<rect x="557" y="646" width="3" height="2" fill="#000"/>
<rect x="561" y="646" width="1" height="2" fill="#000"/>
<rect x="560" y="646" width="3" height="2" fill="#000"/>
<rect x="565" y="646" width="1" height="1" fill="#000"/>
<rect x="564" y="646" width="3" height="1" fill="#000"/>
<rect x="569" y="646" width="1" height="2" fill="#000"/>
<rect x="568" y="646" width="3" height="2" fill="#000"/>
<rect x="572" y="646" width="1" height="1" fill="#000"/>
<rect x="571" y="646" width="3" height="1" fill="#000"/>
<rect x="576" y="646" width="1" height="1" fill="#000"/>
<rect x="575" y="646" width="3" height="1" fill="#000"/>
<rect x="580" y="646" width="1" height="1" fill="#000"/>
<rect x="579" y="646" width="3" height="1" fill="#000"/>
<rect x="583" y="645" width="1" height="2" fill="#000"/>
<rect x="582" y="645" width="3" height="2" fill="#000"/>
<rect x="587" y="645" width="1" height="1" fill="#000"/>
<rect x="586" y="645" width="3" height="1" fill="#000"/>
<rect x="591" y="645" width="1" height="2" fill="#000"/>
<rect x="590" y="645" width="3" height="2" fill="#000"/>
<rect x="594" y="645" width="1" height="1" fill="#000"/>
<rect x="593" y="645" width="3" height="1" fill="#000"/>
<rect x="598" y="645" width="1" height="1" fill="#000"/>
<rect x="597" y="645" width="3" height="1" fill="#000"/>
<rect x="602" y="645" width="1" height="1" fill="#000"/>
<rect x="601" y="645" width="3" height="1" fill="#000"/>
<rect x="605" y="645" width="1" height="1" fill="#000"/>
<rect x="604" y="645" width="3" height="1" fill="#000"/>
<rect x="609" y="645" width="1" height="1" fill="#000"/>
<rect x="608" y="645" width="3" height="1" fill="#000"/>
<rect x="613" y="645" width="1" height="1" fill="#000"/>
<rect x="612" y="645" width="3" height="1" fill="#000"/>
<rect x="616" y="645" width="1" height="1" fill="#000"/>
<rect x="615" y="645" width="3" height="1" fill="#000"/>
<rect x="620" y="645" width="1" height="1" fill="#000"/>
<rect x="619" y="645" width="3" height="1" fill="#000"/>
<rect x="624" y="645" width="1" height="1" fill="#000"/>
<rect x="623" y="645" width="3" height="1" fill="#000"/>
<rect x="627" y="645" width="1" height="1" fill="#000"/>
<rect x="626" y="645" width="3" height="1" fill="#000"/>
<rect x="631" y="645" width="1" height="1" fill="#000"/>
<rect x="630" y="645" width="3" height="1" fill="#000"/>
<rect x="635" y="645" width="1" height="1" fill="#000"/>
<rect x="634" y="645" width="3" height="1" fill="#000"/>
<rect x="638" y="645" width="1" height="1" fill="#000"/>
<rect x="637" y="645" width="3" height="1" fill="#000"/>
<rect x="642" y="645" width="1" height="1" fill="#000"/>
<rect x="641" y="645" width="3" height="1" fill="#000"/>
<rect x="646" y="645" width="1" height="1" fill="#000"/>
<rect x="645" y="645" width="3" height="1" fill="#000"/>
<rect x="649" y="645" width="1" height="1" fill="#000"/>
<rect x="648" y="645" width="3" height="1" fill="#000"/>
<rect x="653" y="645" width="1" height="1" fill="#000"/>
<rect x="652" y="645" width="3" height="1" fill="#000"/>
<rect x="657" y="645" width="1" height="1" fill="#000"/>
<rect x="656" y="645" width="3" height="1" fill="#000"/>
<rect x="660" y="645" width="1" height="1" fill="#000"/>
<rect x="659" y="645" width="3" height="1" fill="#000"/>
<rect x="664" y="645" width="1" height="1" fill="#000"/>
<rect x="663" y="645" width="3" height="1" fill="#000"/>
<rect x="668" y="645" width="1" height="1" fill="#000"/>
<rect x="667" y="645" width="3" height="1" fill="#000"/>
<rect x="671" y="645" width="1" height="1" fill="#000"/>
<rect x="670" y="645" width="3" height="1" fill="#000"/>
<rect x="675" y="645" width="1" height="1" fill="#000"/>
<rect x="674" y="645" width="3" height="1" fill="#000"/>
<rect x="678" y="645" width="1" height="1" fill="#000"/>
<rect x="677" y="645" width="3" height="1" fill="#000"/>
<rect x="682" y="645" width="1" height="1" fill="#000"/>
<rect x="681" y="645" width="3" height="1" fill="#000"/>
<rect x="686" y="645" width="1" height="1" fill="#000"/>
<rect x="685" y="645" width="3" height="1" fill="#000"/>
<rect x="689" y="645" width="1" height="1" fill="#000"/>
<rect x="688" y="645" width="3" height="1" fill="#000"/>
<rect x="693" y="645" width="1" height="1" fill="#000"/>
<rect x="692" y="645" width="3" height="1" fill="#000"/>
<rect x="697" y="645" width="1" height="1" fill="#000"/>
<rect x="696" y="645" width="3" height="1" fill="#000"/>
<rect x="700" y="644" width="1" height="2" fill="#000"/>
<rect x="699" y="644" width="3" height="2" fill="#000"/>
<rect x="704" y="644" width="1" height="2" fill="#000"/>
<rect x="703" y="644" width="3" height="2" fill="#000"/>
<rect x="708" y="644" width="1" height="1" fill="#000"/>
<rect x="707" y="644" width="3" height="1" fill="#000"/>
<rect x="711" y="643" width="1" height="2" fill="#000"/>
<rect x="710" y="643" width="3" height="2" fill="#000"/>
<path d="M11 473h3v6h3l-4.5 9l-4.5 -9h3z" fill="#f00"/>
<path d="M47 448h3v6h3l-4.5 9l-4.5 -9h3z" fill="#f00"/>
<path d="M135 490h3v6h3l-4.5 9l-4.5 -9h3z" fill="#f00"/>
<path d="M212 484h3v6h3l-4.5 9l-4.5 -9h3z" fill="#f00"/>
<path d="M359 639h3v6h3l-4.5 9l-4.5 -9h3z" fill="#f00"/>
<path d="M421 623h3v6h3l-4.5 9l-4.5 -9h3z" fill="#f00"/>
<path d="M531 625h3v6h3l-4.5 9l-4.5 -9h3z" fill="#f00"/>
<path d="M604 622h3v6h3l-4.5 9l-4.5 -9h3z" fill="#f00"/>
<path d="M118.5 502l4.5 9h-3v6h-3v-6h-3z" fill="#009900"/>
<path d="M162.5 542l4.5 9h-3v6h-3v-6h-3z" fill="#009900"/>
<path d="M309.5 697l4.5 9h-3v6h-3v-6h-3z" fill="#009900"/>
<path d="M492.5 657l4.5 9h-3v6h-3v-6h-3z" fill="#009900"/>
<path d="M693.5 653l4.5 9h-3v6h-3v-6h-3z" fill="#009900"/>
<rect x="3" y="416" width="1" height="316" fill="#000"/>
<rect x="719" y="416" width="1" height="316" fill="#000"/>
<rect x="3" y="731" width="717" height="1" fill="#000"/>
<rect x="3" y="416" width="7" height="1" fill="#000"/>
<rect x="396" y="416" width="324" height="1" fill="#000"/>
<rect x="45" y="731" width="1" height="8" fill="#000"/>
<text transform="translate(0,743) scale(1,1.05)" x="49" y="0" fill="#000" text-anchor="start" font-family="Liberation Sans, sans-serif" font-size="12">Dec</text>
<rect x="122" y="731" width="1" height="8" fill="#000"/>
<text transform="translate(0,743) scale(1,1.05)" x="126" y="0" fill="#000" text-anchor="start" font-family="Liberation Sans, sans-serif" font-size="12">2025</text>
<rect x="195" y="731" width="1" height="8" fill="#000"/>
<text transform="translate(0,743) scale(1,1.05)" x="199" y="0" fill="#000" text-anchor="start" font-family="Liberation Sans, sans-serif" font-size="12">Feb</text>
<rect x="268" y="731" width="1" height="8" fill="#000"/>
<text transform="translate(0,743) scale(1,1.05)" x="272" y="0" fill="#000" text-anchor="start" font-family="Liberation Sans, sans-serif" font-size="12">Mar</text>
<rect x="345" y="731" width="1" height="8" fill="#000"/>
<text transform="translate(0,743) scale(1,1.05)" x="349" y="0" fill="#000" text-anchor="start" font-family="Liberation Sans, sans-serif" font-size="12">Apr</text>
<rect x="422" y="731" width="1" height="8" fill="#000"/>
<text transform="translate(0,743) scale(1,1.05)" x="426" y="0" fill="#000" text-anchor="start" font-family="Liberation Sans, sans-serif" font-size="12">May</text>
<rect x="499" y="731" width="1" height="8" fill="#000"/>
<text transform="translate(0,743) scale(1,1.05)" x="503" y="0" fill="#000" text-anchor="start" font-family="Liberation Sans, sans-serif" font-size="12">Jun</text>
<rect x="572" y="731" width="1" height="8" fill="#000"/>
<text transform="translate(0,743) scale(1,1.05)" x="576" y="0" fill="#000" text-anchor="start" font-family="Liberation Sans, sans-serif" font-size="12">Jul</text>
<rect x="653" y="731" width="1" height="8" fill="#000"/>
<text transform="translate(0,743) scale(1,1.05)" x="657" y="0" fill="#000" text-anchor="start" font-family="Liberation Sans, sans-serif" font-size="12">Aug</text>
<text transform="translate(0,743) scale(1,1.05)" x="9" y="0" fill="#000" text-anchor="start" font-family="Liberation Sans, sans-serif" font-size="12">Nov</text>
<text transform="translate(0,462.3) scale(1,1.05)" x="775.6" y="0" fill="#000" text-anchor="end" font-family="Liberation Sans, sans-serif" font-size="12">13</text>
<text transform="translate(0,510.3) scale(1,1.05)" x="775.6" y="0" fill="#000" text-anchor="end" font-family="Liberation Sans, sans-serif" font-size="12">12</text>
<text transform="translate(0,558.3) scale(1,1.05)" x="775.6" y="0" fill="#000" text-anchor="end" font-family="Liberation Sans, sans-serif" font-size="12">11</text>
<text transform="translate(0,606.3) scale(1,1.05)" x="775.6" y="0" fill="#000" text-anchor="end" font-family="Liberation Sans, sans-serif" font-size="12">10</text>
<text transform="translate(0,654.3) scale(1,1.05)" x="775.6" y="0" fill="#000" text-anchor="end" font-family="Liberation Sans, sans-serif" font-size="12">9</text>
<text transform="translate(0,702.3) scale(1,1.05)" x="775.6" y="0" fill="#000" text-anchor="end" font-family="Liberation Sans, sans-serif" font-size="12">8</text>
<rect x="10" y="411" width="382" height="14" fill="#fff"/>
<rect x="10" y="425" width="318" height="14" fill="#fff"/>
<text transform="translate(0,422) scale(1,1.05)" x="10" y="0" font-family="Liberation Sans, sans-serif" font-size="12" textLength="381.3" lengthAdjust="spacingAndGlyphs" xml:space="preserve">DNB - Daily 2025-08-25 Open 9.14,Hi 9.16,Lo 9.14, Close 9.15 (0.4%)</text>
<text transform="translate(0,436) scale(1,1.05)" x="10" y="0" font-family="Liberation Sans, sans-serif" font-size="12" textLength="316.7" lengthAdjust="spacingAndGlyphs" xml:space="preserve">Vol 1,782,670,976 <tspan fill="#ff0000">Top</tspan> = 9.13, <tspan fill="#009900">Bottom</tspan> = 9.09, <tspan fill="#0000ff">Trend</tspan> = 9.33</text>
</svg></body></html>
